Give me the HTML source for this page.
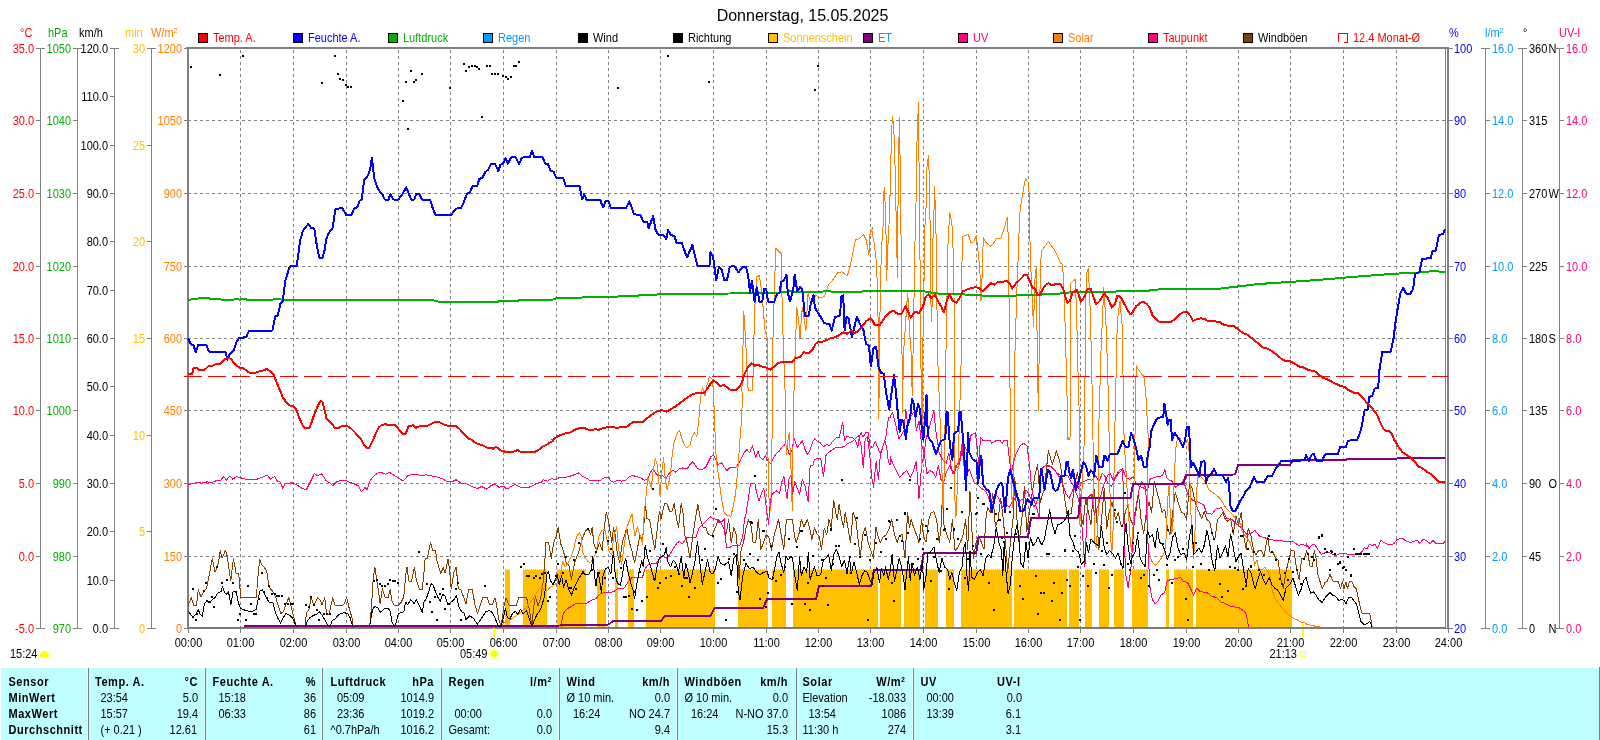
<!DOCTYPE html>
<html lang="de"><head><meta charset="utf-8"><title>Donnerstag, 15.05.2025</title>
<style>html,body{margin:0;padding:0;background:#fff;overflow:hidden}body{width:1600px;height:740px}svg{display:block;will-change:transform;font-family:"Liberation Sans",Arial,sans-serif;font-size:11px}text{white-space:pre}</style></head><body>
<svg width="1600" height="740" viewBox="0 0 1600 740">
<rect x="0" y="0" width="1600" height="740" fill="#ffffff"/>
<g stroke="#808080" stroke-width="1" stroke-dasharray="3 3" shape-rendering="crispEdges">
<line x1="240.5" y1="50" x2="240.5" y2="628"/>
<line x1="293.5" y1="50" x2="293.5" y2="628"/>
<line x1="346.5" y1="50" x2="346.5" y2="628"/>
<line x1="398.5" y1="50" x2="398.5" y2="628"/>
<line x1="450.5" y1="50" x2="450.5" y2="628"/>
<line x1="503.5" y1="50" x2="503.5" y2="628"/>
<line x1="556.5" y1="50" x2="556.5" y2="628"/>
<line x1="608.5" y1="50" x2="608.5" y2="628"/>
<line x1="660.5" y1="50" x2="660.5" y2="628"/>
<line x1="713.5" y1="50" x2="713.5" y2="628"/>
<line x1="766.5" y1="50" x2="766.5" y2="628"/>
<line x1="818.5" y1="50" x2="818.5" y2="628"/>
<line x1="870.5" y1="50" x2="870.5" y2="628"/>
<line x1="923.5" y1="50" x2="923.5" y2="628"/>
<line x1="976.5" y1="50" x2="976.5" y2="628"/>
<line x1="1028.5" y1="50" x2="1028.5" y2="628"/>
<line x1="1080.5" y1="50" x2="1080.5" y2="628"/>
<line x1="1133.5" y1="50" x2="1133.5" y2="628"/>
<line x1="1186.5" y1="50" x2="1186.5" y2="628"/>
<line x1="1238.5" y1="50" x2="1238.5" y2="628"/>
<line x1="1290.5" y1="50" x2="1290.5" y2="628"/>
<line x1="1343.5" y1="50" x2="1343.5" y2="628"/>
<line x1="1396.5" y1="50" x2="1396.5" y2="628"/>
<line x1="188" y1="120.5" x2="1445" y2="120.5"/>
<line x1="188" y1="193.5" x2="1445" y2="193.5"/>
<line x1="188" y1="266.5" x2="1445" y2="266.5"/>
<line x1="188" y1="338.5" x2="1445" y2="338.5"/>
<line x1="188" y1="410.5" x2="1445" y2="410.5"/>
<line x1="188" y1="483.5" x2="1445" y2="483.5"/>
<line x1="188" y1="556.5" x2="1445" y2="556.5"/>
</g>
<g fill="#ffc000" shape-rendering="crispEdges">
<rect x="505.0" y="570" width="4.5" height="58"/>
<rect x="523.2" y="570" width="23.5" height="58"/>
<rect x="557.0" y="570" width="28.8" height="58"/>
<rect x="597.0" y="570" width="9.2" height="58"/>
<rect x="615.0" y="570" width="3.0" height="58"/>
<rect x="628.2" y="570" width="5.5" height="58"/>
<rect x="646.2" y="570" width="68.8" height="58"/>
<rect x="738.2" y="570" width="29.8" height="58"/>
<rect x="772.0" y="570" width="13.8" height="58"/>
<rect x="793.0" y="570" width="84.5" height="58"/>
<rect x="879.5" y="570" width="21.1" height="58"/>
<rect x="904.2" y="570" width="15.7" height="58"/>
<rect x="924.8" y="570" width="13.0" height="58"/>
<rect x="946.0" y="570" width="7.7" height="58"/>
<rect x="961.1" y="570" width="50.4" height="58"/>
<rect x="1014.2" y="570" width="52.8" height="58"/>
<rect x="1069.2" y="570" width="10.2" height="58"/>
<rect x="1084.9" y="570" width="7.4" height="58"/>
<rect x="1098.6" y="570" width="10.2" height="58"/>
<rect x="1114.3" y="570" width="9.9" height="58"/>
<rect x="1132.2" y="570" width="15.9" height="58"/>
<rect x="1166.0" y="570" width="2.8" height="58"/>
<rect x="1174.3" y="570" width="18.7" height="58"/>
<rect x="1195.5" y="570" width="96.2" height="58"/>
</g>
<g stroke="#ffc000" stroke-width="1" stroke-dasharray="1 1" shape-rendering="crispEdges">
<line x1="505" y1="569.5" x2="510" y2="569.5"/>
<line x1="523" y1="569.5" x2="547" y2="569.5"/>
<line x1="557" y1="569.5" x2="586" y2="569.5"/>
<line x1="597" y1="569.5" x2="606" y2="569.5"/>
<line x1="615" y1="569.5" x2="618" y2="569.5"/>
<line x1="628" y1="569.5" x2="634" y2="569.5"/>
<line x1="646" y1="569.5" x2="715" y2="569.5"/>
<line x1="738" y1="569.5" x2="768" y2="569.5"/>
<line x1="772" y1="569.5" x2="786" y2="569.5"/>
<line x1="793" y1="569.5" x2="878" y2="569.5"/>
<line x1="880" y1="569.5" x2="901" y2="569.5"/>
<line x1="904" y1="569.5" x2="920" y2="569.5"/>
<line x1="925" y1="569.5" x2="938" y2="569.5"/>
<line x1="946" y1="569.5" x2="954" y2="569.5"/>
<line x1="961" y1="569.5" x2="1012" y2="569.5"/>
<line x1="1014" y1="569.5" x2="1067" y2="569.5"/>
<line x1="1069" y1="569.5" x2="1079" y2="569.5"/>
<line x1="1085" y1="569.5" x2="1092" y2="569.5"/>
<line x1="1099" y1="569.5" x2="1109" y2="569.5"/>
<line x1="1114" y1="569.5" x2="1124" y2="569.5"/>
<line x1="1132" y1="569.5" x2="1148" y2="569.5"/>
<line x1="1166" y1="569.5" x2="1169" y2="569.5"/>
<line x1="1174" y1="569.5" x2="1193" y2="569.5"/>
<line x1="1196" y1="569.5" x2="1292" y2="569.5"/>
</g>
<g shape-rendering="crispEdges">
<rect x="186" y="47" width="1262" height="2" fill="#808080"/>
<rect x="187" y="47" width="2" height="582" fill="#808080"/>
<rect x="1445" y="47" width="1" height="582" fill="#808080"/>
<rect x="1447" y="47" width="2" height="582" fill="#808080"/>
<rect x="184" y="628" width="1269" height="1" fill="#808080"/>
</g>
<g shape-rendering="crispEdges">
<polyline points="188.1,605.6 191.3,597.7 193.9,605.6 196.5,605.6 198.3,589.8 200.9,596.9 203.6,591.6 206.7,588.1 209.7,572.3 212.3,558.2 215.0,572.3 216.7,567.9 218.5,562.6 220.3,550.3 222.0,558.2 225.5,550.3 227.3,556.5 229.0,568.7 230.8,581.0 233.4,558.2 236.1,573.1 238.7,573.1 240.8,597.7 256.3,597.7 258.0,575.8 259.8,559.1 261.5,564.4 264.2,567.0 266.8,571.4 268.6,584.6 270.3,588.9 272.9,591.6 275.6,596.9 278.2,605.6 280.9,613.5 283.5,611.8 286.1,603.9 288.8,597.7 291.4,607.4 294.0,617.9 296.3,627.1 305.1,627.1 306.3,613.5 309.0,609.1 311.1,597.7 313.9,605.6 317.7,597.7 320.4,600.4 322.1,604.8 324.8,597.7 326.5,613.5 329.2,614.4 330.9,605.6 332.7,597.7 335.3,605.6 342.3,605.6 344.1,603.9 346.7,597.7 349.4,609.1 352.0,617.9 352.9,627.1 369.6,627.1 371.3,609.1 373.1,580.2 374.8,567.0 376.6,579.3 378.3,589.8 380.1,603.9 382.4,588.9 385.4,597.7 388.0,597.7 390.1,589.5 391.9,600.4 394.2,605.6 398.5,605.6 401.2,602.1 403.8,596.9 405.6,575.8 407.0,567.0 408.7,581.0 411.7,581.0 414.4,567.0 416.5,581.0 419.6,589.5 422.3,589.5 424.0,572.3 425.2,558.2 427.5,558.2 430.5,542.4 432.8,550.3 435.4,550.3 437.2,561.7 440.7,573.1 443.3,567.9 445.1,573.1 448.1,559.1 449.8,572.3 451.2,588.9 453.9,572.3 456.2,567.0 458.3,588.9 460.9,589.5 463.5,596.9 466.0,603.9 468.6,589.8 472.1,588.9 474.8,603.9 477.4,613.5 480.1,605.6 482.7,597.7 487.1,597.7 489.7,604.8 492.3,604.8 495.0,597.7 496.7,605.6 498.5,617.9 501.1,627.1 503.8,607.4 506.0,597.7 509.0,605.3 516.1,605.3 518.7,597.7 526.6,597.7 529.2,609.1 531.9,625.8 533.6,607.4 535.4,596.9 538.0,605.6 540.7,597.7 543.3,581.0 545.0,558.2 545.9,542.4 548.6,542.4 551.2,558.2 553.8,542.4 556.5,535.4 558.2,527.5 560.9,544.2 563.5,551.2 566.1,562.6 568.8,565.2 571.4,579.3 574.9,561.7 578.4,552.9 581.9,539.8 585.4,531.0 588.1,528.3 590.7,534.5 592.1,527.5 594.2,545.9 596.9,550.3 599.5,542.4 602.1,550.3 604.4,526.6 606.2,512.5 608.3,519.6 610.0,531.0 611.8,542.4 613.5,527.5 615.3,535.4 617.1,552.1 619.7,562.6 622.3,542.4 625.0,534.5 626.7,527.5 629.4,542.4 632.0,551.2 634.6,562.6 637.3,549.4 639.9,535.4 642.5,539.8 644.3,519.6 645.5,504.6 646.9,518.7 649.6,519.6 652.2,535.4 654.8,549.4 656.6,534.5 658.3,519.6 659.6,511.7 661.0,518.7 662.7,511.7 664.5,503.8 667.1,503.8 669.8,511.7 672.4,510.8 674.2,503.8 676.8,519.6 678.5,527.5 681.2,503.8 682.9,511.7 684.7,535.4 687.3,543.3 690.0,558.2 692.6,537.1 695.2,519.6 697.9,504.6 700.5,519.6 703.1,527.5 705.8,527.5 708.4,534.5 711.9,535.4 715.4,527.5 718.1,519.6 720.7,522.2 723.3,527.5 726.0,534.5 728.6,519.6 731.2,542.4 733.9,527.5 736.5,535.4 739.1,579.3 740.9,551.2 743.5,542.4 746.0,528.3 748.6,519.6 751.3,526.6 753.0,542.4 755.7,542.4 758.3,519.6 760.9,549.4 763.6,542.4 766.2,534.5 768.8,537.1 771.5,550.3 774.1,535.4 776.7,526.6 778.5,519.6 781.1,534.5 783.8,549.4 786.4,519.6 792.5,519.6 794.3,534.5 796.1,542.4 798.7,535.4 801.3,519.6 804.0,526.6 807.5,519.6 809.6,528.3 811.9,539.8 814.5,527.5 817.1,534.5 818.9,535.4 821.5,549.4 824.2,528.3 826.8,534.5 828.9,519.6 831.2,527.5 833.8,500.2 835.6,511.7 837.3,519.6 839.1,504.6 841.7,519.6 843.5,527.5 845.2,512.5 847.9,527.5 850.5,542.4 853.1,512.5 855.8,519.6 858.4,542.4 860.2,556.5 862.8,534.5 865.4,527.5 868.1,542.4 870.7,550.3 873.3,558.2 876.0,527.5 877.7,535.4 880.4,542.4 883.0,537.1 886.5,534.5 889.2,528.3 891.8,519.6 894.4,534.5 897.1,542.4 899.7,535.4 902.3,534.5 905.0,558.2 907.6,512.5 909.4,527.5 911.1,519.6 913.7,527.5 916.4,534.5 919.0,542.4 921.7,519.6 923.4,535.4 926.0,542.4 928.7,519.6 931.3,512.5 934.0,511.7 936.6,519.6 939.2,542.4 941.0,527.5 942.4,496.7 944.1,526.6 947.1,535.4 949.8,542.4 952.4,519.6 955.0,550.3 957.7,547.7 960.3,542.4 962.9,535.4 965.6,519.6 967.7,549.4 970.0,491.5 971.7,526.6 973.5,558.2 976.1,542.4 978.7,535.4 981.4,542.4 984.0,549.4 985.8,519.6 987.5,507.3 990.2,512.5 992.8,493.2 995.4,526.6 998.1,519.6 1000.7,498.5 1003.3,519.6 1006.0,549.4 1007.7,572.3 1010.4,542.4 1013.0,519.6 1014.8,477.4 1017.4,527.5 1019.1,542.4 1021.8,519.6 1024.4,486.2 1026.8,531.9 1030.8,502.2 1034.9,475.1 1037.6,464.3 1040.3,502.2 1044.3,488.6 1048.4,450.8 1052.4,464.3 1056.5,450.8 1060.5,464.3 1063.2,488.6 1067.3,515.7 1071.4,513.0 1074.1,488.6 1077.3,472.4 1078.7,479.0 1080.5,512.5 1083.1,524.8 1085.7,497.8 1088.4,512.5 1091.0,524.8 1093.6,485.1 1096.3,512.5 1098.9,549.4 1101.5,519.6 1104.2,488.6 1106.8,528.3 1109.4,510.8 1112.1,502.0 1115.6,519.6 1118.2,512.5 1120.9,524.8 1122.6,526.6 1125.2,512.5 1127.9,505.5 1130.5,519.6 1133.1,524.8 1135.8,512.5 1138.4,492.8 1141.1,519.6 1143.7,533.6 1146.3,512.5 1149.0,502.5 1151.6,512.5 1154.2,481.6 1159.5,501.2 1162.1,512.5 1164.8,509.0 1167.4,528.3 1170.0,534.5 1172.7,512.5 1175.3,492.3 1178.8,504.6 1181.5,512.5 1184.1,513.4 1186.7,519.6 1189.4,483.4 1192.0,487.7 1195.5,503.8 1198.1,509.9 1201.7,518.7 1204.3,511.7 1206.9,519.6 1209.6,521.3 1212.2,534.5 1214.8,539.8 1217.5,519.6 1220.1,516.9 1222.7,512.5 1225.4,519.6 1228.0,521.3 1230.6,518.7 1233.3,534.5 1235.9,516.1 1238.5,524.8 1241.2,512.5 1243.8,537.1 1246.4,549.4 1248.2,528.3 1250.8,534.5 1253.5,550.3 1256.1,554.7 1258.7,550.3 1261.4,550.3 1264.0,556.5 1267.5,537.1 1270.2,552.9 1272.8,551.2 1275.4,558.2 1278.1,560.0 1280.7,579.3 1283.3,588.1 1286.0,572.3 1288.6,560.0 1291.2,550.3 1293.9,550.3 1296.5,568.7 1299.1,579.3 1301.8,558.2 1304.4,558.2 1306.0,552.9 1306.3,550.3 1308.1,554.7 1309.9,566.1 1312.5,566.1 1314.3,550.3 1316.0,558.2 1317.8,574.0 1320.4,582.8 1322.2,588.9 1324.8,582.8 1327.4,581.0 1330.1,574.0 1332.7,581.0 1338.0,581.0 1340.6,588.9 1342.4,581.9 1344.1,588.9 1345.9,581.9 1347.6,588.9 1349.4,581.9 1352.0,581.9 1353.8,586.3 1356.4,588.9 1358.2,597.7 1359.9,605.6 1361.7,613.0 1369.6,613.0 1371.3,621.4 1372.2,627.1" fill="none" stroke="#804000" stroke-width="1" stroke-linejoin="round" />
<polyline points="188.1,484.6 192.2,483.8 197.6,482.4 201.6,483.2 207.0,481.9 212.4,482.4 216.5,480.5 220.5,480.5 223.8,476.5 226.5,480.0 230.0,475.7 232.7,479.2 236.8,476.5 240.8,477.8 247.6,479.7 257.0,479.2 262.4,477.3 267.0,475.1 270.5,479.2 274.6,476.5 277.8,481.9 280.0,481.9 282.7,488.1 285.4,483.2 288.1,483.8 292.2,482.4 296.2,484.6 301.6,488.1 306.2,490.0 309.7,483.2 314.3,473.8 317.8,475.7 321.9,473.8 325.9,480.5 330.0,483.2 332.7,485.9 336.8,481.9 340.8,480.0 344.9,480.0 348.9,481.9 353.0,483.2 358.4,485.9 361.6,491.9 365.1,487.3 367.0,490.0 370.5,480.0 374.6,475.1 380.0,471.9 385.4,474.3 389.5,472.4 393.5,475.1 397.6,477.3 403.0,481.1 408.4,475.1 417.8,474.6 421.9,475.9 425.9,474.6 430.0,475.7 435.4,476.5 442.2,478.6 447.6,481.9 451.6,481.9 456.2,479.7 461.1,483.2 466.5,483.8 471.9,486.5 477.3,488.6 481.4,486.5 486.8,489.2 490.8,485.9 494.9,483.8 498.9,487.3 503.0,485.9 507.0,489.2 511.1,486.5 515.1,484.6 520.5,487.3 528.6,487.3 532.7,485.9 536.8,483.2 540.8,482.7 543.5,479.7 547.6,481.1 551.6,478.4 555.7,480.0 559.7,477.3 563.8,477.8 569.2,476.5 574.6,474.6 578.6,473.0 582.7,476.5 586.8,478.4 590.8,481.1 594.9,480.0 598.9,481.1 604.3,477.8 609.7,477.3 610.0,480.2 613.5,482.5 617.0,480.2 621.4,481.1 625.8,480.2 629.3,476.7 632.8,475.4 636.3,476.7 640.7,477.6 644.3,480.2 647.8,479.0 650.4,472.3 653.0,468.8 655.7,473.2 658.3,475.8 662.7,475.8 666.2,478.4 669.7,472.3 673.2,470.5 675.9,472.3 679.4,468.8 682.9,467.9 687.3,468.8 689.9,464.4 692.6,461.7 695.2,465.3 697.8,468.8 702.2,469.7 705.7,467.0 708.4,461.7 711.0,456.5 713.6,454.7 716.3,460.9 718.0,464.4 721.5,462.6 724.2,467.0 726.8,470.5 730.3,467.4 736.5,467.0 739.1,462.6 741.7,457.4 744.4,452.1 747.0,449.5 749.6,453.0 752.3,445.9 754.0,451.2 755.8,457.4 757.9,451.2 760.2,457.4 762.8,460.0 765.5,455.6 767.2,460.0 770.7,463.5 774.2,456.5 776.9,453.0 779.5,451.2 782.1,446.8 785.7,444.2 787.4,447.7 789.2,454.7 791.8,451.2 794.1,438.0 797.1,447.7 799.7,444.2 802.3,440.7 805.0,449.5 807.6,454.7 810.2,449.5 812.9,441.5 814.6,438.9 817.3,441.5 819.9,442.4 823.4,446.8 826.9,444.2 829.6,445.9 833.1,440.7 835.7,438.0 839.2,437.2 841.0,430.1 842.7,422.2 844.5,440.7 847.1,436.3 849.8,437.2 853.3,438.0 855.9,441.5 857.7,447.7 859.4,436.3 861.2,432.8 862.9,437.2 865.6,432.8 868.2,432.8 870.0,445.9 872.6,447.7 875.2,441.5 877.9,447.7 880.5,454.7 883.1,445.9 884.9,440.7 886.7,447.7 888.4,461.7 890.0,465.3 890.0,456.5 893.5,465.3 897.0,472.3 899.7,477.6 903.2,473.2 906.7,470.5 910.2,477.6 912.8,472.3 916.3,461.7 919.0,498.6 921.6,465.3 924.3,453.0 926.9,474.0 929.5,470.5 933.0,472.3 935.7,477.6 938.3,465.3 940.9,479.3 943.6,482.8 946.2,472.3 949.7,465.3 953.2,474.0 955.9,465.3 958.5,468.8 960.3,456.5 962.0,444.2 963.8,465.3 966.4,477.6 969.0,468.8 971.7,475.8 974.3,482.8 977.8,484.6 981.3,488.1 985.7,491.6 988.4,496.9 991.0,503.9 993.6,500.4 995.4,493.4 998.9,498.6 1002.4,507.4 1005.9,503.9 1009.4,507.4 1013.0,500.4 1016.5,496.9 1020.0,500.4 1023.5,498.6 1026.1,489.9 1028.8,493.4 1031.4,500.4 1034.0,507.4 1036.7,502.1 1039.3,491.6 1041.1,468.8 1044.6,466.1 1048.1,465.3 1051.6,467.0 1055.1,470.5 1058.6,475.8 1062.1,482.8 1065.7,493.4 1069.2,498.6 1072.7,489.9 1076.2,482.8 1078.8,488.1 1081.5,482.8 1085.0,481.1 1088.5,479.3 1092.0,480.2 1095.5,475.8 1099.0,481.1 1102.5,473.2 1105.2,476.7 1107.8,482.8 1111.3,486.3 1114.8,479.3 1118.4,473.2 1122.7,469.7 1126.3,477.6 1129.8,479.3 1133.3,476.7 1135.9,482.8 1139.4,486.3 1143.8,488.1 1147.3,490.7 1150.0,479.3 1153.5,477.6 1157.9,476.7 1162.3,475.8 1164.9,469.7 1166.7,477.6 1170.0,481.1 1171.4,480.5 1175.4,487.3 1179.5,484.6 1183.5,480.5 1187.6,494.1 1193.0,500.8 1198.4,502.2 1203.8,504.9 1206.5,513.0 1211.9,514.3 1215.9,508.9 1221.4,507.6 1226.8,518.4 1232.2,519.7 1236.2,523.8 1241.6,527.8 1247.0,534.6 1251.1,533.2 1255.1,530.5 1259.2,535.9 1263.2,537.3 1267.3,538.6 1272.7,540.0 1279.5,540.5 1286.2,541.4 1293.0,541.4 1298.4,545.4 1302.4,544.1 1306.5,546.2 1306.3,543.3 1309.0,548.5 1312.5,544.2 1315.1,545.0 1317.8,549.4 1321.3,554.3 1324.8,552.9 1328.3,552.1 1331.8,553.8 1335.3,555.6 1339.7,553.8 1344.1,552.9 1347.6,554.3 1352.0,554.7 1357.3,554.3 1361.7,552.1 1364.3,547.7 1366.9,549.1 1369.6,544.2 1372.2,545.9 1374.9,544.2 1377.5,548.5 1381.0,539.8 1383.6,542.4 1387.1,544.2 1390.7,545.0 1394.2,543.3 1396.8,539.8 1402.1,538.0 1406.5,541.5 1410.9,542.4 1414.4,541.5 1417.0,539.8 1419.6,543.3 1423.2,539.2 1426.7,540.6 1430.2,543.8 1432.8,540.3 1436.3,543.8 1439.8,543.3 1443.4,543.3 1445.1,541.5" fill="none" stroke="#ff0080" stroke-width="1" stroke-linejoin="round" />
<polyline points="501.1,627.1 503.8,623.2 508.2,621.4 511.7,618.8 516.9,615.3 522.2,610.9 526.6,607.4 531.9,600.4 536.3,593.3 539.8,588.1 542.4,586.3 545.0,593.3 549.4,588.1 553.8,585.4 557.3,582.8 560.9,572.3 562.6,561.7 565.2,567.0 567.9,563.5 571.4,556.5 574.0,547.7 576.7,536.3 579.3,532.7 581.1,536.3 582.8,552.9 585.4,558.2 588.1,561.7 590.7,562.6 593.3,558.2 596.0,552.9 598.6,537.1 601.3,531.0 604.8,529.2 607.4,542.4 609.2,552.1 611.8,554.7 613.5,538.9 615.3,531.0 616.7,526.6 617.9,542.4 619.7,556.5 621.5,564.4 624.1,545.9 626.7,528.3 629.4,520.4 632.0,514.3 633.7,528.3 635.0,536.3 637.3,526.6 639.9,534.5 642.5,544.2 644.3,512.5 645.5,502.0 647.8,477.6 649.5,482.8 651.3,488.1 653.0,472.3 655.3,458.2 657.4,465.3 660.1,496.0 661.8,472.3 663.6,457.4 665.3,479.3 667.1,489.9 668.8,482.8 670.6,472.3 672.4,453.0 674.1,442.4 676.7,434.5 679.4,430.1 682.0,438.9 684.7,445.9 687.3,447.7 689.9,445.1 691.7,438.0 694.3,432.8 696.9,436.3 698.7,421.3 699.9,405.5 701.0,395.0 702.7,387.3 704.9,396.2 706.8,385.9 709.5,376.5 712.2,379.2 713.5,391.4 713.6,395.0 714.9,430.1 716.3,460.0 718.9,477.6 721.5,498.6 724.2,512.7 726.8,515.3 730.9,516.2 733.0,507.4 735.6,493.4 738.2,465.3 740.0,438.9 741.4,421.3 742.6,395.0 741.9,391.4 743.8,311.6 745.9,345.4 748.1,390.0 752.7,390.0 754.6,310.3 756.8,276.5 759.5,275.7 762.2,296.8 764.9,329.2 767.0,337.3 767.0,395.0 768.6,495.1 770.9,510.9 772.7,395.0 773.0,337.3 775.7,248.1 778.4,250.8 781.1,253.5 782.4,315.7 783.8,358.9 785.1,391.4 785.1,395.0 786.2,454.7 787.4,444.2 789.2,432.8 790.9,465.3 792.3,510.9 793.0,447.7 793.9,395.0 795.1,353.5 796.8,307.6 798.6,319.7 800.0,338.6 802.2,307.6 804.1,318.4 805.9,330.5 808.1,292.7 810.8,304.9 813.5,298.1 816.2,295.4 820.3,297.6 824.3,296.8 828.4,284.6 832.4,280.5 837.8,272.4 841.9,271.9 847.3,275.9 850.0,267.0 852.7,253.5 855.4,240.0 859.5,238.6 863.5,234.6 866.2,240.0 868.9,254.9 870.3,229.2 873.0,227.8 871.8,230.3 874.4,244.3 876.1,260.1 877.0,277.7 877.9,305.8 878.4,355.0 878.4,390.1 878.8,419.1 879.1,390.1 879.7,333.9 880.5,277.7 882.3,233.8 883.2,225.0 883.2,198.6 884.4,187.2 885.5,210.9 885.8,225.0 886.2,242.6 886.7,280.3 887.6,251.3 889.0,225.0 889.7,207.4 890.7,170.5 891.4,135.4 892.5,116.1 893.4,124.0 894.2,138.0 895.1,167.9 896.0,210.9 896.7,225.0 897.2,277.7 897.8,225.0 898.5,158.2 899.5,117.8 900.2,167.9 900.9,225.0 901.3,260.1 901.6,312.8 902.0,355.0 902.5,413.0 903.4,355.0 905.1,330.4 907.2,298.8 907.8,293.5 909.5,330.4 911.3,355.0 912.2,395.4 913.0,355.0 915.3,225.0 916.0,203.9 916.5,163.5 917.4,124.0 918.7,102.9 919.2,196.9 919.7,225.0 920.9,355.0 921.8,467.4 922.7,355.0 925.0,225.0 925.9,215.3 926.6,171.4 927.6,160.9 928.7,155.1 929.4,188.1 930.1,225.0 931.1,312.8 931.8,321.6 933.2,225.0 933.9,214.4 934.6,186.0 935.3,210.1 935.9,225.0 937.6,355.0 941.8,465.3 943.0,509.2 944.5,465.3 945.9,355.0 948.2,233.8 949.0,225.0 949.6,212.3 950.4,215.3 951.3,220.6 951.7,225.0 952.6,228.5 954.0,295.3 954.3,355.0 954.1,482.8 955.9,518.0 957.6,482.8 961.3,355.0 962.2,236.4 968.4,234.7 971.0,242.6 973.6,241.7 976.3,235.5 977.1,242.6 978.0,251.3 979.8,268.9 981.0,300.5 982.4,268.9 983.3,237.3 985.9,242.6 990.3,246.1 993.0,244.3 996.5,238.2 1000.9,238.2 1003.5,230.3 1005.3,225.0 1006.1,220.6 1007.5,217.1 1007.9,225.0 1008.8,277.7 1009.6,355.0 1011.2,482.8 1012.4,507.4 1013.8,482.8 1014.9,355.0 1016.7,295.3 1018.4,251.3 1019.3,225.0 1020.2,209.2 1021.9,198.6 1024.2,184.6 1025.5,178.4 1027.2,181.1 1028.6,182.8 1029.3,198.6 1029.5,225.0 1030.8,267.0 1033.5,326.5 1034.9,280.5 1036.2,267.0 1037.6,375.1 1038.4,410.3 1040.3,267.0 1041.6,250.8 1048.4,241.4 1055.1,250.8 1060.5,263.0 1062.7,264.3 1064.6,307.6 1066.5,375.1 1068.1,440.0 1067.4,437.2 1070.0,440.0 1070.8,283.2 1075.4,279.2 1076.8,321.1 1078.1,375.1 1080.0,440.0 1079.7,525.0 1081.5,500.4 1084.3,440.0 1086.2,275.1 1088.1,268.4 1089.7,294.1 1091.6,361.6 1093.0,440.0 1094.5,542.4 1096.3,547.7 1098.0,519.6 1098.4,440.0 1101.1,348.1 1103.8,287.3 1105.9,321.1 1107.8,375.1 1109.2,440.0 1110.7,537.1 1111.7,554.7 1112.9,537.1 1114.6,440.0 1117.3,321.1 1120.0,300.8 1122.2,326.5 1124.1,440.0 1130.0,537.1 1131.4,551.2 1132.8,537.1 1134.9,440.0 1136.2,365.7 1140.3,372.4 1143.8,376.5 1145.7,391.4 1147.0,415.7 1148.4,440.0 1147.2,502.0 1148.1,547.7 1149.8,556.5 1152.5,562.6 1155.1,565.2 1157.7,563.5 1161.3,558.2 1164.8,551.2 1166.5,533.6 1167.4,502.0 1169.2,484.4 1170.4,519.6 1171.8,533.6 1173.2,519.6 1172.8,525.0 1173.7,493.4 1174.9,465.3 1176.3,442.4 1179.0,437.2 1181.6,440.7 1184.3,443.3 1186.0,441.5 1187.8,439.8 1189.0,451.2 1190.0,482.8 1191.3,525.0 1193.7,558.2 1195.3,525.0 1196.5,493.4 1197.8,477.6 1200.9,476.7 1206.2,482.8 1208.8,489.9 1214.1,493.4 1220.3,498.6 1225.5,507.4 1230.8,512.7 1236.1,518.8 1241.3,525.0 1242.1,531.9 1246.4,537.1 1250.0,542.4 1253.5,554.7 1254.4,565.2 1257.0,560.0 1258.7,568.7 1262.3,569.6 1264.9,567.0 1268.4,572.3 1271.0,584.6 1273.7,595.1 1276.3,600.4 1278.9,603.9 1282.5,608.3 1286.0,612.7 1289.5,615.3 1293.0,617.9 1297.4,620.0 1301.8,622.3 1306.0,623.2 1306.3,624.1 1313.4,625.8 1320.4,627.1" fill="none" stroke="#ff8000" stroke-width="1" stroke-linejoin="round" />
<polyline points="561.4,627.1 562.3,616.2 564.4,611.8 567.9,608.3 571.4,606.5 575.8,603.5 587.2,603.0 590.7,600.4 596.0,598.6 600.4,593.3 606.5,592.5 613.5,591.9 617.1,588.9 624.1,588.1 627.6,582.8 632.0,577.5 642.5,577.2 645.2,568.7 647.8,565.2 652.2,563.5 656.6,563.1 659.2,560.0 662.7,556.5 666.2,558.2 669.8,554.7 673.3,548.5 676.8,543.3 679.4,541.5 682.1,544.2 687.3,537.1 696.1,537.1 698.7,528.3 702.3,524.8 705.8,521.3 710.2,516.9 713.7,518.7 717.2,519.6 718.9,523.1 722.5,521.3 724.2,518.7 725.1,537.1 726.8,547.7 729.5,548.0 733.0,545.0 740.0,545.0 742.7,537.1 744.4,519.6 746.0,514.3 750.5,483.7 754.9,483.4 756.7,493.4 759.0,501.3 761.4,493.4 763.7,488.1 765.5,500.4 767.2,514.4 768.6,524.1 769.5,510.9 771.3,495.1 774.2,492.5 776.9,490.7 779.5,493.4 782.1,481.1 783.9,476.7 785.7,489.9 787.1,498.6 789.2,477.6 790.9,475.8 792.7,493.4 794.8,481.1 797.1,488.1 799.7,494.2 802.3,479.3 805.0,486.3 808.1,501.3 810.2,465.3 812.9,465.3 814.6,459.1 820.8,458.6 823.4,476.7 826.1,454.7 831.3,450.3 835.7,447.7 844.5,446.8 848.0,443.3 852.4,441.5 855.9,438.0 858.6,435.4 861.2,445.9 863.3,467.9 865.1,439.8 867.3,436.3 869.6,453.0 871.7,476.7 873.5,487.2 876.1,461.7 878.4,479.3 880.5,453.0 883.1,445.9 885.8,437.2 888.4,417.8 890.0,417.8 890.0,416.1 892.6,412.6 895.3,423.1 898.8,438.9 901.4,435.4 904.1,430.1 905.8,409.1 907.6,423.1 911.1,416.1 914.6,410.8 916.3,430.1 919.0,421.3 921.6,444.2 924.3,453.0 926.0,438.9 928.6,430.1 933.9,410.8 935.7,430.1 939.2,453.0 942.7,460.0 946.2,463.5 948.8,453.0 951.5,468.8 954.1,474.0 956.7,465.3 960.3,460.0 962.9,444.2 965.5,447.7 968.2,453.0 970.8,435.4 975.2,432.8 976.9,444.2 978.7,465.3 980.5,437.2 983.1,440.7 990.1,440.7 991.9,443.3 995.4,441.0 999.8,440.3 1002.4,443.3 1004.2,440.3 1007.3,440.3 1008.6,453.0 1011.2,474.0 1013.0,465.3 1015.6,454.7 1020.0,445.9 1023.5,443.3 1027.0,445.9 1029.6,465.3 1031.4,486.3 1034.0,500.4 1036.7,507.4 1039.3,518.0 1040.3,469.7 1045.7,465.7 1051.1,467.0 1056.5,472.4 1061.9,476.5 1067.3,475.1 1072.7,484.6 1078.1,498.1 1080.8,510.3 1084.9,567.0 1087.6,498.1 1091.6,494.1 1094.3,514.3 1098.4,504.9 1103.8,484.6 1107.8,475.1 1110.5,473.8 1113.2,480.5 1118.6,471.1 1122.7,468.4 1125.4,572.4 1128.1,587.3 1130.8,569.7 1134.9,513.0 1138.9,490.0 1141.6,481.9 1145.7,487.3 1149.7,585.9 1152.4,599.5 1155.1,603.5 1158.4,600.8 1160.5,595.4 1164.6,592.7 1167.3,580.5 1180.6,577.5 1183.2,581.0 1187.6,582.8 1191.1,589.8 1193.7,595.1 1196.4,588.1 1199.9,591.6 1206.9,592.5 1211.3,596.0 1216.6,597.7 1221.0,602.1 1225.4,603.5 1230.6,606.5 1238.5,607.4 1243.8,610.9 1246.4,614.4 1248.2,625.0 1249.1,627.1" fill="none" stroke="#ff0080" stroke-width="1" stroke-linejoin="round" />
<polyline points="244.0,626.0 540.0,626.0 580.0,625.0 608.8,624.5 612.5,621.2 661.2,621.2 664.4,616.0 710.6,616.0 714.4,608.1 763.1,608.1 766.9,599.4 816.0,599.4 819.0,586.0 871.2,586.0 873.8,569.8 920.6,569.8 923.8,553.1 976.2,553.1 978.8,536.9 1028.0,536.9 1031.0,517.5 1078.2,517.5 1080.4,497.6 1130.5,497.6 1133.0,484.0 1183.0,484.0 1186.0,475.0 1235.0,474.5 1238.0,465.3 1290.0,465.0 1293.0,460.3 1346.0,459.8 1348.0,458.6 1397.0,458.6 1399.0,457.7 1445.0,457.7" fill="none" stroke="#800080" stroke-width="2" stroke-linejoin="round" />
<polyline points="188.1,610.9 193.0,617.4 195.7,614.4 198.3,609.5 200.1,614.4 202.2,616.2 204.4,603.9 207.1,600.4 209.7,603.0 212.3,599.5 215.0,597.7 217.6,593.3 221.1,591.6 222.5,586.3 224.6,592.5 226.4,594.2 228.5,591.6 230.8,604.8 233.1,591.6 236.1,591.6 238.7,603.9 240.8,608.3 245.7,610.6 251.9,611.8 256.3,609.1 258.4,597.7 260.1,590.7 262.4,589.8 265.0,595.1 267.7,600.4 270.3,603.0 272.9,602.1 275.6,613.5 278.2,618.8 280.5,623.2 283.5,617.1 286.1,613.5 289.6,615.3 292.3,617.9 294.9,623.2 296.3,627.1 305.1,627.1 307.2,621.4 309.8,617.9 313.3,615.3 316.9,614.4 319.5,611.8 322.1,615.3 324.8,619.7 327.4,625.0 330.0,626.7 332.1,620.6 335.3,618.8 338.8,614.4 344.1,612.7 347.6,613.5 350.2,617.9 352.9,627.1 369.6,627.1 371.3,616.2 373.1,608.3 374.8,606.5 377.5,607.4 380.6,612.3 383.6,609.1 388.0,608.3 390.1,610.9 391.9,621.4 394.2,626.4 395.9,623.2 398.5,613.5 403.8,611.8 405.6,602.1 407.7,604.8 410.8,599.5 414.4,603.9 416.1,599.5 418.7,603.9 422.3,612.7 424.0,602.1 426.6,597.7 429.3,589.8 431.0,583.7 433.3,585.4 435.4,591.6 438.1,597.7 440.3,601.2 442.5,594.2 445.1,596.0 448.1,604.8 451.2,602.1 453.9,599.5 456.5,596.0 459.1,607.4 461.8,611.8 464.4,613.5 466.0,619.7 469.5,615.8 473.0,617.9 477.4,624.1 481.8,617.9 486.2,611.3 489.7,610.6 492.3,612.7 495.0,617.9 498.5,626.7 501.1,626.4 503.8,616.2 505.5,608.3 507.3,617.9 509.9,618.8 512.5,613.5 515.2,611.3 517.8,614.4 520.5,609.1 523.1,613.5 526.6,610.9 529.2,618.8 531.9,626.7 534.5,619.7 537.1,614.4 539.8,610.9 542.4,603.9 544.2,596.9 545.9,584.6 547.2,572.3 548.6,571.4 550.3,580.2 552.9,584.6 555.6,579.3 557.3,574.9 559.1,584.6 561.7,575.8 563.5,587.2 566.1,580.2 568.8,589.8 571.4,595.1 574.0,588.1 576.7,582.8 579.3,577.5 582.8,572.3 585.4,574.9 589.0,574.0 591.6,568.7 592.8,556.5 594.2,572.3 596.0,586.3 597.7,572.3 599.5,579.3 601.3,592.5 603.0,575.8 605.6,568.7 608.3,567.0 610.9,574.0 613.5,551.2 615.3,575.8 617.4,582.8 620.2,585.4 622.3,575.8 624.1,563.5 625.8,558.2 627.6,570.5 630.2,581.0 632.9,589.8 634.6,598.6 636.4,586.3 639.0,572.3 641.7,560.8 643.4,567.0 645.2,545.0 647.3,556.5 649.6,563.5 652.2,572.3 654.8,581.0 656.6,568.7 659.2,558.2 661.9,556.5 664.5,554.7 666.2,547.7 668.0,561.7 670.6,567.0 673.3,560.0 675.9,563.5 678.5,572.3 681.2,556.5 683.8,577.5 685.9,563.5 688.2,572.3 690.0,582.8 692.6,572.3 695.2,560.0 697.5,541.5 699.6,560.0 702.3,584.6 704.9,572.3 707.5,560.0 710.2,572.3 712.8,574.0 715.4,568.7 718.1,556.5 720.7,563.5 724.2,565.2 728.6,561.7 731.2,575.8 733.9,558.2 736.5,554.7 738.3,591.6 740.0,600.4 742.7,575.8 746.0,563.5 749.5,568.7 753.0,567.0 756.5,572.3 760.1,574.9 763.6,572.3 767.1,571.4 769.2,578.4 772.3,579.3 775.0,567.0 776.7,556.5 779.0,552.1 781.1,563.5 783.8,572.3 786.0,556.5 788.2,560.0 790.8,556.5 792.5,558.2 794.8,575.8 797.3,590.7 799.6,556.5 801.3,575.8 804.0,567.0 806.6,572.3 808.4,552.1 810.1,579.3 812.4,572.3 814.5,567.0 817.1,575.8 820.7,574.9 823.3,560.0 825.9,558.2 828.6,554.7 831.2,570.5 833.8,554.7 836.5,549.4 839.1,556.5 841.7,567.0 844.4,560.0 847.0,572.3 849.6,558.2 851.4,574.0 854.0,561.7 856.7,572.3 859.3,584.6 861.9,575.8 864.6,570.5 867.2,572.3 869.8,579.3 872.1,584.6 874.2,572.3 876.9,567.0 879.5,582.8 881.3,568.7 883.9,575.8 885.6,567.0 888.3,579.3 890.0,572.3 892.1,554.7 894.4,581.9 897.1,568.7 899.2,558.2 901.5,567.0 903.2,575.8 905.0,589.8 906.7,572.3 908.5,556.5 910.2,581.0 912.0,563.5 914.6,575.8 917.3,567.0 919.9,579.3 922.5,561.7 923.8,589.8 926.0,575.8 927.8,552.9 930.4,552.1 934.0,546.8 936.6,561.7 939.2,572.3 941.9,558.2 944.5,567.0 947.7,569.6 949.8,579.3 951.9,572.3 954.2,582.8 956.8,590.7 959.4,572.3 962.1,567.0 963.8,547.7 965.6,542.4 967.0,575.8 968.7,590.7 970.0,551.2 971.7,577.5 974.4,579.3 977.5,572.3 980.5,569.6 983.1,575.8 985.8,558.2 988.4,554.7 991.0,556.5 993.7,545.9 996.3,527.5 998.9,542.4 1001.6,551.2 1002.8,575.8 1004.2,542.4 1006.0,572.3 1008.1,593.3 1010.4,584.6 1012.1,560.0 1014.8,534.5 1017.4,523.1 1019.1,542.4 1020.9,563.5 1023.5,567.0 1026.0,542.4 1028.1,558.2 1030.4,537.1 1033.0,545.9 1035.7,542.4 1037.9,537.1 1041.8,545.0 1044.4,538.9 1047.1,524.8 1049.7,509.9 1052.3,524.8 1055.0,533.6 1057.6,524.8 1060.3,524.0 1063.8,521.3 1066.4,517.8 1068.2,510.8 1069.9,535.4 1072.5,540.6 1075.2,549.4 1078.7,552.1 1081.3,564.4 1084.0,561.7 1086.6,542.4 1088.4,552.9 1091.0,538.9 1093.6,542.4 1096.3,544.2 1098.9,545.9 1101.5,526.6 1104.2,547.7 1106.8,554.7 1109.4,550.3 1112.1,552.9 1115.6,558.2 1118.2,552.9 1120.9,563.5 1123.0,568.7 1124.4,537.1 1126.1,523.1 1127.9,544.2 1130.5,563.5 1132.3,556.5 1134.9,552.9 1137.5,535.4 1140.2,558.2 1142.8,563.5 1145.4,567.0 1147.2,530.1 1149.8,537.1 1152.5,534.5 1155.1,547.7 1157.4,528.3 1159.5,542.4 1162.1,544.2 1164.8,550.3 1167.4,560.0 1170.0,552.9 1172.7,537.1 1175.3,532.7 1177.9,547.7 1180.6,554.7 1184.1,552.9 1186.7,560.0 1189.4,537.1 1192.0,524.8 1193.7,554.7 1196.4,551.2 1199.0,547.7 1201.7,552.9 1204.3,545.9 1206.9,530.1 1209.6,542.4 1212.2,561.7 1214.8,570.5 1217.5,545.9 1220.1,558.2 1222.7,552.9 1225.4,545.9 1228.0,556.5 1230.6,534.5 1233.3,547.7 1235.9,561.7 1238.5,556.5 1241.2,552.9 1243.8,571.4 1246.4,584.6 1248.2,568.7 1250.8,572.3 1253.5,582.8 1255.2,588.9 1257.9,579.3 1260.5,571.4 1263.1,579.3 1265.8,584.6 1269.3,577.5 1271.9,584.6 1274.6,588.1 1277.2,589.8 1279.8,593.3 1283.3,600.4 1286.0,588.1 1289.5,584.6 1293.0,578.4 1295.6,586.3 1298.3,595.1 1300.9,589.8 1303.5,581.0 1306.0,577.5 1306.3,577.5 1308.1,585.4 1310.7,593.3 1313.4,591.6 1316.0,595.1 1318.6,599.5 1322.2,602.5 1325.7,596.9 1330.1,592.5 1332.7,595.1 1335.3,596.0 1338.8,600.4 1341.5,599.5 1344.1,600.4 1345.9,603.9 1348.5,597.7 1351.1,596.9 1353.8,600.4 1356.4,603.9 1358.2,610.9 1360.8,621.4 1364.3,625.0 1367.8,623.2 1369.9,621.4 1372.2,627.1" fill="none" stroke="#000000" stroke-width="1" stroke-linejoin="round" />
<rect x="189" y="627" width="1256" height="1" fill="#0099ff"/>
<polyline points="188.1,300.0 194.9,298.9 201.6,298.1 207.0,297.8 211.1,298.9 220.5,299.5 234.1,299.5 236.8,298.6 239.5,299.7 244.9,298.9 247.6,300.0 271.9,299.7 277.3,298.6 281.4,299.7 431.4,299.7 435.4,301.1 440.8,301.9 497.6,301.9 500.3,300.8 517.8,300.8 520.5,299.5 553.0,299.5 555.7,298.4 578.6,298.4 585.4,296.8 609.7,296.8 627.0,296.2 648.6,294.9 664.9,294.1 729.7,293.5 735.1,292.7 778.4,292.7 789.2,291.4 816.2,292.2 824.3,291.4 856.8,291.9 870.3,290.8 897.3,291.4 924.3,291.4 937.8,293.5 959.5,294.1 978.4,295.4 1005.4,296.2 1017.6,295.4 1029.7,295.4 1047.0,294.1 1060.5,293.5 1074.1,291.9 1128.1,291.4 1147.0,290.8 1165.9,288.6 1187.6,289.5 1220.0,288.6 1257.8,284.1 1290.3,281.9 1317.3,280.0 1357.8,276.5 1393.0,273.8 1420.0,272.4 1433.5,271.1 1444.9,271.9" fill="none" stroke="#00b000" stroke-width="2" stroke-linejoin="round" />
<polyline points="188.1,338.6 190.8,344.1 193.5,345.4 195.7,352.2 198.4,344.9 206.2,344.9 208.9,351.6 225.4,351.6 227.3,359.7 230.0,353.5 233.5,350.8 236.8,341.4 239.5,337.8 246.2,337.3 248.9,331.1 272.4,330.5 275.1,317.0 277.8,315.1 280.5,303.5 282.7,301.6 285.4,280.5 289.5,267.0 291.4,265.7 296.8,265.7 299.5,245.4 300.3,240.0 303.0,230.5 308.4,223.8 311.1,227.8 314.3,228.6 315.9,240.0 317.8,250.8 319.2,257.6 322.7,257.6 325.1,248.1 325.9,240.0 328.6,233.2 332.7,227.8 335.4,208.9 342.2,208.1 346.2,214.9 351.6,214.9 354.3,208.1 357.0,207.6 359.7,200.8 361.6,199.5 364.3,179.2 366.5,177.8 369.2,172.4 370.5,167.0 371.9,158.1 373.2,168.4 374.1,177.8 377.3,187.3 380.5,192.7 382.7,194.6 384.6,199.5 388.6,199.5 390.3,194.1 393.5,199.5 398.4,199.5 402.2,194.6 406.2,187.3 408.4,192.7 411.1,199.5 414.3,199.5 416.5,193.5 419.2,193.5 421.9,199.5 430.0,199.5 432.7,208.1 435.4,214.9 451.1,214.9 455.1,209.5 457.8,208.1 461.1,208.1 463.8,202.2 467.0,193.5 469.7,192.7 472.4,186.5 477.3,185.9 479.2,179.2 482.7,177.3 485.4,171.9 488.1,169.7 490.8,164.3 494.9,163.8 498.4,171.1 500.3,165.1 503.5,163.0 505.7,158.1 507.8,163.8 511.1,157.6 515.1,156.8 519.2,163.8 521.9,157.6 530.0,156.8 531.9,150.8 534.1,156.8 542.2,156.8 545.4,163.8 548.1,164.3 550.8,171.1 553.5,171.6 556.2,177.8 563.2,177.8 565.9,185.9 579.5,185.9 582.2,199.5 584.1,194.1 586.8,200.0 600.3,200.0 603.0,207.6 605.7,200.8 608.4,200.8 610.8,207.6 626.2,207.6 629.2,201.4 631.9,207.6 633.8,214.3 640.5,215.1 643.2,221.6 647.3,222.4 648.6,228.4 653.2,216.2 655.4,229.2 658.1,234.6 663.5,235.1 666.2,239.2 668.1,230.0 670.8,235.1 674.3,235.9 675.7,240.0 676.5,243.2 681.9,243.2 687.0,257.6 692.4,244.9 697.3,265.7 709.5,265.7 710.3,252.2 713.0,256.2 716.2,280.0 718.9,267.0 721.6,269.7 724.3,280.0 727.0,280.0 729.7,267.0 733.0,265.7 735.1,267.0 738.4,272.4 743.2,266.5 745.9,267.0 748.1,275.1 750.0,292.7 751.9,280.5 754.6,301.6 756.8,287.3 759.5,301.6 762.2,301.6 764.3,288.6 766.2,288.6 768.1,301.6 774.3,301.6 777.0,294.1 779.7,292.7 781.1,281.9 783.8,280.5 786.5,274.6 787.8,292.7 790.0,301.6 793.2,290.0 794.6,274.6 797.3,291.4 800.0,287.3 802.2,288.6 804.9,315.7 808.6,315.7 810.8,303.5 813.5,295.4 814.9,307.6 817.6,312.4 821.6,318.4 824.3,323.2 829.7,324.3 831.6,330.5 835.1,317.0 840.0,315.7 841.4,296.2 843.2,295.4 844.6,330.5 846.5,317.0 848.6,318.4 851.9,337.3 856.8,317.0 860.0,323.8 863.5,330.5 866.2,344.1 868.9,345.4 870.8,366.5 873.5,348.1 876.2,346.8 878.4,367.0 881.1,373.0 883.8,373.8 885.9,391.4 889.2,409.7 894.1,375.1 895.9,391.4 897.3,407.6 898.8,421.3 899.7,431.9 901.4,419.6 903.2,421.3 904.9,431.0 905.8,438.9 907.6,424.9 910.2,417.8 912.0,398.5 913.7,403.8 915.5,417.0 918.1,403.8 919.9,409.1 921.6,425.7 923.4,439.8 925.1,418.7 926.5,395.0 927.8,435.4 929.5,438.9 932.2,442.4 936.0,453.8 940.9,441.0 945.3,438.9 946.6,411.7 948.0,413.4 948.8,433.6 950.6,449.5 952.4,460.0 954.1,433.6 955.9,431.9 958.2,431.0 959.4,412.6 960.8,411.7 962.0,426.6 963.8,447.7 965.2,472.3 965.9,489.9 967.3,458.2 968.2,432.8 969.4,453.0 972.6,459.1 974.7,460.9 976.4,460.9 978.2,482.8 979.6,465.3 981.3,455.6 982.2,470.5 983.1,484.6 984.9,487.2 986.6,489.9 989.2,490.7 990.5,502.1 991.9,511.8 994.5,498.6 996.3,490.7 998.9,484.6 1001.0,482.5 1002.4,484.6 1003.8,500.4 1005.1,511.8 1006.3,498.6 1008.0,477.6 1010.3,469.7 1012.1,476.7 1013.8,484.6 1015.6,490.7 1017.3,496.0 1019.1,503.9 1020.3,511.3 1023.5,511.3 1025.3,505.7 1027.4,499.5 1029.6,501.3 1031.4,504.8 1033.2,498.6 1036.7,497.8 1039.3,497.8 1040.2,477.6 1041.4,468.8 1042.8,477.6 1044.6,489.9 1046.3,479.3 1048.1,469.7 1049.8,471.4 1051.6,479.3 1053.4,488.1 1055.1,490.7 1057.7,489.9 1059.5,482.8 1061.3,476.7 1064.8,475.4 1066.5,462.6 1067.8,461.7 1069.2,472.3 1071.3,478.4 1072.7,469.7 1074.4,477.6 1075.8,489.9 1078.0,483.7 1079.7,476.7 1081.5,468.8 1083.2,462.3 1085.0,463.5 1086.7,468.8 1088.5,475.8 1090.6,470.5 1092.9,472.3 1094.1,475.8 1096.4,455.6 1097.6,461.7 1099.0,467.0 1102.5,467.0 1104.3,455.6 1105.7,456.5 1107.5,460.9 1109.6,454.7 1113.1,453.8 1117.5,453.8 1120.1,447.7 1122.7,441.0 1125.4,446.8 1128.5,446.8 1131.0,433.3 1132.8,436.3 1134.5,442.4 1136.8,451.2 1138.6,460.0 1141.2,455.6 1143.8,467.0 1146.5,467.4 1147.9,453.0 1150.0,445.9 1150.9,431.9 1153.5,425.7 1157.0,418.7 1159.7,417.5 1163.2,417.0 1164.4,403.8 1165.8,412.6 1167.6,424.9 1169.3,419.6 1170.7,419.6 1172.0,439.8 1174.6,432.8 1177.2,436.3 1179.9,440.7 1183.0,446.8 1185.1,439.8 1186.9,426.6 1189.0,426.6 1190.0,447.7 1190.8,467.0 1193.0,462.6 1195.3,467.0 1197.4,471.4 1199.2,475.8 1201.3,461.7 1204.5,461.4 1205.9,482.8 1208.0,476.7 1210.6,474.9 1214.1,468.8 1216.7,474.9 1220.3,475.4 1222.9,475.4 1225.9,481.9 1228.2,477.6 1229.4,489.9 1230.4,505.7 1232.6,510.9 1235.2,511.3 1237.8,505.7 1240.5,500.4 1243.1,496.9 1245.7,491.3 1249.2,488.1 1251.9,481.9 1254.0,476.7 1256.3,481.9 1264.2,481.9 1267.7,476.3 1272.1,475.8 1275.6,468.8 1279.1,464.4 1280.9,461.4 1290.5,461.4 1293.2,460.9 1304.6,460.3 1306.0,454.7 1309.0,460.9 1311.6,454.7 1313.7,453.8 1316.5,460.9 1322.1,460.9 1324.8,454.7 1326.5,453.8 1338.0,453.8 1340.1,447.2 1345.9,446.8 1348.1,440.7 1357.3,439.8 1359.9,432.8 1361.7,426.6 1363.4,416.1 1364.6,410.5 1367.8,409.4 1369.2,397.1 1372.2,395.9 1374.6,388.6 1378.1,388.1 1379.5,369.7 1382.2,352.2 1390.8,351.6 1393.5,338.6 1395.7,321.1 1397.8,307.6 1400.5,292.7 1403.2,288.1 1405.9,293.5 1410.5,293.5 1413.2,288.6 1415.1,273.8 1419.5,272.4 1422.2,258.9 1430.8,258.1 1432.2,251.4 1435.7,250.8 1437.6,241.4 1438.9,235.1 1443.0,234.1 1444.9,229.2" fill="none" stroke="#0000ff" stroke-width="2" stroke-linejoin="round" />
<polyline points="188.1,374.3 192.2,373.8 193.5,368.4 196.8,367.8 198.9,370.0 204.3,370.0 208.4,366.2 212.4,365.7 216.5,363.8 220.5,363.8 224.6,358.9 228.6,357.6 231.4,359.5 235.4,364.9 239.5,367.6 242.7,367.8 246.2,370.5 249.7,373.0 255.1,373.0 258.4,371.6 262.4,370.8 267.0,368.9 270.5,371.6 273.8,375.1 275.9,380.5 278.6,387.3 281.4,393.5 282.7,397.3 286.8,403.0 289.5,405.4 293.5,405.9 296.2,409.7 298.9,417.0 302.2,424.6 304.9,428.4 309.2,428.4 311.1,423.8 313.8,415.7 316.5,408.9 319.2,403.0 321.1,400.8 322.7,402.2 324.6,410.3 326.5,418.4 330.0,421.6 332.7,425.1 335.4,428.4 338.9,428.4 341.6,425.9 346.2,425.7 350.3,427.8 355.7,433.2 359.7,438.1 361.6,440.0 363.8,444.9 366.5,447.6 369.2,447.6 372.4,441.4 373.2,440.0 375.9,433.2 378.6,427.8 381.4,425.1 385.4,424.3 389.5,425.1 394.9,425.1 397.6,427.8 400.3,431.4 403.0,433.8 405.7,433.8 408.4,426.5 411.1,425.7 413.0,425.1 415.7,427.8 419.2,426.5 423.2,425.9 427.3,425.9 431.4,423.8 434.6,422.2 439.5,422.2 443.5,424.3 447.6,425.7 455.7,425.7 459.7,429.2 463.8,433.8 467.8,438.1 471.9,440.0 475.9,443.2 482.7,445.4 488.1,448.1 493.5,448.6 496.2,446.8 500.3,450.3 507.0,452.2 513.8,451.6 517.8,450.0 521.1,452.2 534.1,452.2 538.1,450.3 542.2,446.8 547.6,444.1 553.0,440.8 552.4,440.0 558.4,435.9 563.8,433.8 570.5,432.4 575.9,429.2 581.4,427.8 585.4,428.4 590.3,430.5 594.9,429.2 598.9,429.7 603.8,427.8 609.7,427.0 612.2,426.5 616.2,427.8 621.6,427.3 627.0,426.5 632.4,422.4 637.8,421.6 643.2,421.6 648.6,417.0 654.1,413.0 658.1,410.8 662.2,410.3 666.2,411.6 670.3,409.7 675.7,406.2 681.1,402.2 686.5,398.1 691.9,394.6 695.9,393.2 704.1,393.0 706.8,389.5 710.8,383.2 713.5,380.5 717.6,383.2 720.3,385.9 724.3,385.1 727.0,387.3 729.7,389.5 736.5,389.5 739.2,387.3 741.9,382.4 744.6,373.8 747.3,368.4 751.4,363.0 754.6,365.7 758.1,364.9 762.2,366.5 766.2,367.6 770.3,369.7 774.3,366.5 778.4,363.0 782.4,361.6 786.5,362.2 791.9,362.2 795.1,358.4 800.0,356.8 804.1,352.2 808.1,353.5 812.2,350.3 815.4,344.1 817.6,342.2 821.6,342.2 825.7,340.5 829.7,338.6 835.1,337.3 839.2,335.1 843.2,332.4 847.3,333.8 851.4,330.5 854.1,333.2 858.1,331.1 862.2,326.5 866.2,321.1 870.3,318.4 873.0,321.1 874.3,324.6 879.7,325.1 882.4,321.1 885.1,317.0 889.2,312.4 893.2,310.8 897.3,313.5 901.4,314.3 905.4,306.2 908.1,311.6 910.8,317.8 914.9,311.6 918.9,313.0 923.0,306.2 925.7,296.8 928.4,294.1 931.1,298.1 935.1,294.9 937.8,300.8 941.1,306.2 943.8,312.4 946.5,302.2 949.2,294.1 952.7,300.8 956.2,302.7 959.5,298.1 962.7,291.4 966.2,290.0 968.9,288.6 973.0,288.1 975.7,286.8 979.7,288.6 983.2,291.4 986.5,287.3 990.5,283.2 994.6,284.6 997.8,281.9 1002.7,281.9 1006.8,280.5 1010.3,284.6 1012.2,288.6 1016.2,283.2 1020.3,279.2 1024.3,275.1 1027.0,275.1 1029.5,280.5 1032.2,287.3 1034.9,288.6 1037.6,295.4 1040.3,294.1 1043.0,288.6 1045.7,284.6 1048.4,283.2 1051.9,285.4 1056.5,283.8 1060.5,284.1 1063.2,288.6 1065.4,296.8 1067.3,302.7 1070.0,300.8 1072.7,292.7 1076.8,289.5 1078.9,295.4 1080.8,301.6 1084.3,296.8 1087.6,289.5 1090.8,288.6 1093.0,295.4 1096.2,304.3 1099.7,300.8 1104.3,293.2 1107.8,298.1 1111.9,307.6 1115.1,303.5 1117.3,295.9 1120.5,296.8 1124.1,303.5 1127.6,310.3 1130.3,314.3 1133.0,311.6 1136.2,306.2 1140.3,302.7 1143.8,301.6 1147.0,304.3 1149.7,307.6 1152.4,315.1 1156.5,319.7 1159.2,321.6 1171.4,321.6 1175.4,318.9 1179.5,314.3 1183.5,312.4 1187.6,312.4 1190.8,316.5 1193.0,321.1 1197.0,318.9 1201.1,318.4 1205.1,318.9 1206.5,320.5 1211.9,321.1 1220.0,321.9 1222.7,324.3 1228.1,325.7 1233.5,325.9 1238.9,329.7 1243.0,333.2 1247.0,334.6 1252.4,338.6 1257.8,343.2 1263.2,347.6 1267.3,348.6 1271.4,350.8 1276.8,354.9 1281.6,358.9 1284.9,360.8 1288.9,360.8 1294.3,363.5 1298.4,366.2 1303.8,367.6 1309.2,370.3 1314.6,371.1 1318.6,374.3 1322.7,377.8 1328.1,379.7 1333.5,382.7 1340.3,385.9 1344.3,386.8 1348.4,390.0 1353.8,392.7 1357.8,393.2 1361.9,396.8 1365.9,401.6 1370.0,406.2 1372.7,408.9 1376.8,414.3 1380.8,423.8 1383.5,429.2 1386.2,431.1 1388.9,431.1 1391.6,433.2 1394.3,440.0 1398.4,446.8 1402.4,452.2 1406.5,454.9 1410.5,457.6 1414.6,461.6 1418.6,466.5 1422.7,468.4 1426.8,471.9 1430.8,473.8 1434.9,477.8 1438.4,481.9 1444.9,482.4" fill="none" stroke="#ff0000" stroke-width="2" stroke-linejoin="round" />
<line x1="184" y1="376.5" x2="1448" y2="376.5" stroke="#ff0000" stroke-width="1" stroke-dasharray="18 6"/>
<g fill="#000">
<rect x="190" y="66" width="2" height="2"/>
<rect x="219" y="74" width="2" height="2"/>
<rect x="242" y="55" width="2" height="2"/>
<rect x="334" y="55" width="2" height="2"/>
<rect x="321" y="82" width="2" height="2"/>
<rect x="337" y="73" width="2" height="2"/>
<rect x="339" y="78" width="2" height="2"/>
<rect x="342" y="79" width="2" height="2"/>
<rect x="345" y="84" width="2" height="2"/>
<rect x="347" y="86" width="2" height="2"/>
<rect x="350" y="86" width="2" height="2"/>
<rect x="402" y="100" width="2" height="2"/>
<rect x="405" y="81" width="2" height="2"/>
<rect x="410" y="70" width="2" height="2"/>
<rect x="413" y="81" width="2" height="2"/>
<rect x="415" y="79" width="2" height="2"/>
<rect x="421" y="73" width="2" height="2"/>
<rect x="407" y="128" width="2" height="2"/>
<rect x="449" y="87" width="2" height="2"/>
<rect x="463" y="63" width="2" height="2"/>
<rect x="465" y="70" width="2" height="2"/>
<rect x="468" y="66" width="2" height="2"/>
<rect x="471" y="65" width="2" height="2"/>
<rect x="474" y="65" width="2" height="2"/>
<rect x="476" y="66" width="2" height="2"/>
<rect x="478" y="68" width="2" height="2"/>
<rect x="486" y="65" width="2" height="2"/>
<rect x="489" y="65" width="2" height="2"/>
<rect x="491" y="73" width="2" height="2"/>
<rect x="494" y="73" width="2" height="2"/>
<rect x="497" y="73" width="2" height="2"/>
<rect x="502" y="75" width="2" height="2"/>
<rect x="505" y="76" width="2" height="2"/>
<rect x="507" y="78" width="2" height="2"/>
<rect x="510" y="76" width="2" height="2"/>
<rect x="513" y="65" width="2" height="2"/>
<rect x="515" y="65" width="2" height="2"/>
<rect x="518" y="61" width="2" height="2"/>
<rect x="481" y="116" width="2" height="2"/>
<rect x="617" y="87" width="2" height="2"/>
<rect x="667" y="55" width="2" height="2"/>
<rect x="708" y="81" width="2" height="2"/>
<rect x="817" y="65" width="2" height="2"/>
<rect x="814" y="89" width="2" height="2"/>
<rect x="192" y="588" width="2" height="2"/>
<rect x="195" y="619" width="2" height="2"/>
<rect x="196" y="613" width="2" height="2"/>
<rect x="203" y="590" width="2" height="2"/>
<rect x="205" y="582" width="2" height="2"/>
<rect x="209" y="601" width="2" height="2"/>
<rect x="211" y="596" width="2" height="2"/>
<rect x="213" y="606" width="2" height="2"/>
<rect x="216" y="566" width="2" height="2"/>
<rect x="221" y="582" width="2" height="2"/>
<rect x="226" y="579" width="2" height="2"/>
<rect x="232" y="582" width="2" height="2"/>
<rect x="235" y="591" width="2" height="2"/>
<rect x="237" y="619" width="2" height="2"/>
<rect x="239" y="613" width="2" height="2"/>
<rect x="245" y="619" width="2" height="2"/>
<rect x="247" y="585" width="2" height="2"/>
<rect x="250" y="603" width="2" height="2"/>
<rect x="253" y="613" width="2" height="2"/>
<rect x="255" y="613" width="2" height="2"/>
<rect x="258" y="598" width="2" height="2"/>
<rect x="261" y="572" width="2" height="2"/>
<rect x="263" y="591" width="2" height="2"/>
<rect x="266" y="597" width="2" height="2"/>
<rect x="268" y="585" width="2" height="2"/>
<rect x="271" y="593" width="2" height="2"/>
<rect x="274" y="593" width="2" height="2"/>
<rect x="276" y="595" width="2" height="2"/>
<rect x="278" y="595" width="2" height="2"/>
<rect x="281" y="595" width="2" height="2"/>
<rect x="284" y="603" width="2" height="2"/>
<rect x="287" y="603" width="2" height="2"/>
<rect x="290" y="603" width="2" height="2"/>
<rect x="292" y="603" width="2" height="2"/>
<rect x="305" y="604" width="2" height="2"/>
<rect x="308" y="606" width="2" height="2"/>
<rect x="310" y="596" width="2" height="2"/>
<rect x="313" y="604" width="2" height="2"/>
<rect x="316" y="609" width="2" height="2"/>
<rect x="318" y="619" width="2" height="2"/>
<rect x="323" y="613" width="2" height="2"/>
<rect x="326" y="613" width="2" height="2"/>
<rect x="329" y="613" width="2" height="2"/>
<rect x="371" y="611" width="2" height="2"/>
<rect x="373" y="580" width="2" height="2"/>
<rect x="376" y="579" width="2" height="2"/>
<rect x="379" y="583" width="2" height="2"/>
<rect x="381" y="585" width="2" height="2"/>
<rect x="384" y="585" width="2" height="2"/>
<rect x="387" y="583" width="2" height="2"/>
<rect x="389" y="579" width="2" height="2"/>
<rect x="392" y="580" width="2" height="2"/>
<rect x="394" y="580" width="2" height="2"/>
<rect x="397" y="582" width="2" height="2"/>
<rect x="418" y="551" width="2" height="2"/>
<rect x="426" y="583" width="2" height="2"/>
<rect x="429" y="601" width="2" height="2"/>
<rect x="431" y="611" width="2" height="2"/>
<rect x="434" y="596" width="2" height="2"/>
<rect x="436" y="619" width="2" height="2"/>
<rect x="439" y="593" width="2" height="2"/>
<rect x="442" y="588" width="2" height="2"/>
<rect x="444" y="608" width="2" height="2"/>
<rect x="448" y="603" width="2" height="2"/>
<rect x="455" y="588" width="2" height="2"/>
<rect x="457" y="582" width="2" height="2"/>
<rect x="460" y="619" width="2" height="2"/>
<rect x="484" y="585" width="2" height="2"/>
<rect x="520" y="566" width="2" height="2"/>
<rect x="523" y="563" width="2" height="2"/>
<rect x="526" y="575" width="2" height="2"/>
<rect x="528" y="575" width="2" height="2"/>
<rect x="533" y="577" width="2" height="2"/>
<rect x="535" y="575" width="2" height="2"/>
<rect x="539" y="577" width="2" height="2"/>
<rect x="541" y="573" width="2" height="2"/>
<rect x="544" y="572" width="2" height="2"/>
<rect x="547" y="600" width="2" height="2"/>
<rect x="549" y="596" width="2" height="2"/>
<rect x="555" y="575" width="2" height="2"/>
<rect x="557" y="563" width="2" height="2"/>
<rect x="562" y="572" width="2" height="2"/>
<rect x="565" y="556" width="2" height="2"/>
<rect x="568" y="587" width="2" height="2"/>
<rect x="570" y="587" width="2" height="2"/>
<rect x="573" y="559" width="2" height="2"/>
<rect x="575" y="588" width="2" height="2"/>
<rect x="578" y="542" width="2" height="2"/>
<rect x="582" y="571" width="2" height="2"/>
<rect x="587" y="528" width="2" height="2"/>
<rect x="591" y="569" width="2" height="2"/>
<rect x="595" y="551" width="2" height="2"/>
<rect x="598" y="572" width="2" height="2"/>
<rect x="604" y="577" width="2" height="2"/>
<rect x="607" y="540" width="2" height="2"/>
<rect x="610" y="548" width="2" height="2"/>
<rect x="612" y="577" width="2" height="2"/>
<rect x="620" y="567" width="2" height="2"/>
<rect x="623" y="596" width="2" height="2"/>
<rect x="625" y="596" width="2" height="2"/>
<rect x="628" y="595" width="2" height="2"/>
<rect x="631" y="608" width="2" height="2"/>
<rect x="634" y="591" width="2" height="2"/>
<rect x="636" y="609" width="2" height="2"/>
<rect x="639" y="571" width="2" height="2"/>
<rect x="641" y="600" width="2" height="2"/>
<rect x="646" y="596" width="2" height="2"/>
<rect x="649" y="550" width="2" height="2"/>
<rect x="653" y="578" width="2" height="2"/>
<rect x="657" y="587" width="2" height="2"/>
<rect x="659" y="582" width="2" height="2"/>
<rect x="662" y="543" width="2" height="2"/>
<rect x="665" y="577" width="2" height="2"/>
<rect x="670" y="575" width="2" height="2"/>
<rect x="674" y="566" width="2" height="2"/>
<rect x="678" y="573" width="2" height="2"/>
<rect x="681" y="585" width="2" height="2"/>
<rect x="684" y="577" width="2" height="2"/>
<rect x="686" y="577" width="2" height="2"/>
<rect x="688" y="596" width="2" height="2"/>
<rect x="694" y="587" width="2" height="2"/>
<rect x="701" y="559" width="2" height="2"/>
<rect x="704" y="548" width="2" height="2"/>
<rect x="712" y="535" width="2" height="2"/>
<rect x="715" y="508" width="2" height="2"/>
<rect x="717" y="582" width="2" height="2"/>
<rect x="720" y="578" width="2" height="2"/>
<rect x="725" y="619" width="2" height="2"/>
<rect x="728" y="558" width="2" height="2"/>
<rect x="733" y="553" width="2" height="2"/>
<rect x="736" y="591" width="2" height="2"/>
<rect x="743" y="559" width="2" height="2"/>
<rect x="749" y="553" width="2" height="2"/>
<rect x="751" y="522" width="2" height="2"/>
<rect x="757" y="559" width="2" height="2"/>
<rect x="759" y="598" width="2" height="2"/>
<rect x="762" y="530" width="2" height="2"/>
<rect x="765" y="606" width="2" height="2"/>
<rect x="767" y="592" width="2" height="2"/>
<rect x="770" y="545" width="2" height="2"/>
<rect x="772" y="577" width="2" height="2"/>
<rect x="775" y="580" width="2" height="2"/>
<rect x="780" y="574" width="2" height="2"/>
<rect x="784" y="566" width="2" height="2"/>
<rect x="788" y="538" width="2" height="2"/>
<rect x="791" y="603" width="2" height="2"/>
<rect x="796" y="546" width="2" height="2"/>
<rect x="801" y="530" width="2" height="2"/>
<rect x="804" y="603" width="2" height="2"/>
<rect x="807" y="582" width="2" height="2"/>
<rect x="809" y="609" width="2" height="2"/>
<rect x="812" y="555" width="2" height="2"/>
<rect x="821" y="559" width="2" height="2"/>
<rect x="822" y="585" width="2" height="2"/>
<rect x="825" y="577" width="2" height="2"/>
<rect x="827" y="604" width="2" height="2"/>
<rect x="830" y="529" width="2" height="2"/>
<rect x="832" y="563" width="2" height="2"/>
<rect x="835" y="545" width="2" height="2"/>
<rect x="838" y="545" width="2" height="2"/>
<rect x="846" y="572" width="2" height="2"/>
<rect x="849" y="556" width="2" height="2"/>
<rect x="850" y="572" width="2" height="2"/>
<rect x="854" y="543" width="2" height="2"/>
<rect x="856" y="517" width="2" height="2"/>
<rect x="859" y="556" width="2" height="2"/>
<rect x="864" y="534" width="2" height="2"/>
<rect x="867" y="619" width="2" height="2"/>
<rect x="869" y="559" width="2" height="2"/>
<rect x="875" y="542" width="2" height="2"/>
<rect x="880" y="551" width="2" height="2"/>
<rect x="885" y="538" width="2" height="2"/>
<rect x="889" y="521" width="2" height="2"/>
<rect x="891" y="582" width="2" height="2"/>
<rect x="893" y="600" width="2" height="2"/>
<rect x="896" y="519" width="2" height="2"/>
<rect x="899" y="535" width="2" height="2"/>
<rect x="901" y="540" width="2" height="2"/>
<rect x="904" y="513" width="2" height="2"/>
<rect x="907" y="532" width="2" height="2"/>
<rect x="912" y="563" width="2" height="2"/>
<rect x="917" y="558" width="2" height="2"/>
<rect x="919" y="538" width="2" height="2"/>
<rect x="922" y="548" width="2" height="2"/>
<rect x="925" y="525" width="2" height="2"/>
<rect x="927" y="530" width="2" height="2"/>
<rect x="930" y="580" width="2" height="2"/>
<rect x="933" y="556" width="2" height="2"/>
<rect x="936" y="538" width="2" height="2"/>
<rect x="940" y="570" width="2" height="2"/>
<rect x="943" y="529" width="2" height="2"/>
<rect x="946" y="508" width="2" height="2"/>
<rect x="948" y="588" width="2" height="2"/>
<rect x="953" y="529" width="2" height="2"/>
<rect x="957" y="538" width="2" height="2"/>
<rect x="961" y="511" width="2" height="2"/>
<rect x="964" y="577" width="2" height="2"/>
<rect x="967" y="558" width="2" height="2"/>
<rect x="972" y="545" width="2" height="2"/>
<rect x="975" y="513" width="2" height="2"/>
<rect x="980" y="553" width="2" height="2"/>
<rect x="982" y="503" width="2" height="2"/>
<rect x="988" y="582" width="2" height="2"/>
<rect x="990" y="556" width="2" height="2"/>
<rect x="993" y="609" width="2" height="2"/>
<rect x="995" y="513" width="2" height="2"/>
<rect x="998" y="519" width="2" height="2"/>
<rect x="1001" y="537" width="2" height="2"/>
<rect x="1003" y="541" width="2" height="2"/>
<rect x="1006" y="532" width="2" height="2"/>
<rect x="1009" y="511" width="2" height="2"/>
<rect x="1015" y="533" width="2" height="2"/>
<rect x="1019" y="585" width="2" height="2"/>
<rect x="1022" y="598" width="2" height="2"/>
<rect x="1032" y="513" width="2" height="2"/>
<rect x="1035" y="575" width="2" height="2"/>
<rect x="1037" y="613" width="2" height="2"/>
<rect x="1040" y="592" width="2" height="2"/>
<rect x="1043" y="592" width="2" height="2"/>
<rect x="1046" y="553" width="2" height="2"/>
<rect x="1048" y="553" width="2" height="2"/>
<rect x="1051" y="600" width="2" height="2"/>
<rect x="1053" y="582" width="2" height="2"/>
<rect x="1059" y="619" width="2" height="2"/>
<rect x="1061" y="592" width="2" height="2"/>
<rect x="1064" y="550" width="2" height="2"/>
<rect x="1066" y="579" width="2" height="2"/>
<rect x="1069" y="585" width="2" height="2"/>
<rect x="1072" y="550" width="2" height="2"/>
<rect x="1074" y="535" width="2" height="2"/>
<rect x="1077" y="566" width="2" height="2"/>
<rect x="1079" y="619" width="2" height="2"/>
<rect x="1082" y="575" width="2" height="2"/>
<rect x="1087" y="585" width="2" height="2"/>
<rect x="1093" y="563" width="2" height="2"/>
<rect x="1095" y="572" width="2" height="2"/>
<rect x="1101" y="550" width="2" height="2"/>
<rect x="1103" y="564" width="2" height="2"/>
<rect x="1106" y="542" width="2" height="2"/>
<rect x="1108" y="587" width="2" height="2"/>
<rect x="1111" y="574" width="2" height="2"/>
<rect x="1114" y="509" width="2" height="2"/>
<rect x="1116" y="521" width="2" height="2"/>
<rect x="1120" y="563" width="2" height="2"/>
<rect x="1121" y="525" width="2" height="2"/>
<rect x="1127" y="563" width="2" height="2"/>
<rect x="1129" y="569" width="2" height="2"/>
<rect x="1130" y="562" width="2" height="2"/>
<rect x="1132" y="542" width="2" height="2"/>
<rect x="1137" y="532" width="2" height="2"/>
<rect x="1140" y="577" width="2" height="2"/>
<rect x="1143" y="574" width="2" height="2"/>
<rect x="1144" y="564" width="2" height="2"/>
<rect x="1148" y="585" width="2" height="2"/>
<rect x="1153" y="574" width="2" height="2"/>
<rect x="1156" y="569" width="2" height="2"/>
<rect x="1158" y="579" width="2" height="2"/>
<rect x="1162" y="543" width="2" height="2"/>
<rect x="1166" y="564" width="2" height="2"/>
<rect x="1167" y="529" width="2" height="2"/>
<rect x="1171" y="582" width="2" height="2"/>
<rect x="1174" y="559" width="2" height="2"/>
<rect x="1177" y="556" width="2" height="2"/>
<rect x="1182" y="548" width="2" height="2"/>
<rect x="1185" y="598" width="2" height="2"/>
<rect x="1187" y="619" width="2" height="2"/>
<rect x="1192" y="566" width="2" height="2"/>
<rect x="1195" y="542" width="2" height="2"/>
<rect x="1200" y="563" width="2" height="2"/>
<rect x="1203" y="545" width="2" height="2"/>
<rect x="1208" y="569" width="2" height="2"/>
<rect x="1211" y="532" width="2" height="2"/>
<rect x="1213" y="538" width="2" height="2"/>
<rect x="1219" y="583" width="2" height="2"/>
<rect x="1221" y="596" width="2" height="2"/>
<rect x="1227" y="590" width="2" height="2"/>
<rect x="1229" y="566" width="2" height="2"/>
<rect x="1232" y="530" width="2" height="2"/>
<rect x="1234" y="567" width="2" height="2"/>
<rect x="1237" y="569" width="2" height="2"/>
<rect x="1240" y="535" width="2" height="2"/>
<rect x="1242" y="588" width="2" height="2"/>
<rect x="1245" y="585" width="2" height="2"/>
<rect x="1247" y="548" width="2" height="2"/>
<rect x="1250" y="566" width="2" height="2"/>
<rect x="1253" y="551" width="2" height="2"/>
<rect x="1258" y="569" width="2" height="2"/>
<rect x="1263" y="574" width="2" height="2"/>
<rect x="1267" y="538" width="2" height="2"/>
<rect x="1271" y="551" width="2" height="2"/>
<rect x="1275" y="559" width="2" height="2"/>
<rect x="1279" y="578" width="2" height="2"/>
<rect x="1281" y="583" width="2" height="2"/>
<rect x="1284" y="572" width="2" height="2"/>
<rect x="1287" y="579" width="2" height="2"/>
<rect x="1288" y="558" width="2" height="2"/>
<rect x="1292" y="571" width="2" height="2"/>
<rect x="1296" y="569" width="2" height="2"/>
<rect x="1300" y="583" width="2" height="2"/>
<rect x="1303" y="558" width="2" height="2"/>
<rect x="1307" y="553" width="2" height="2"/>
<rect x="1311" y="556" width="2" height="2"/>
<rect x="1313" y="559" width="2" height="2"/>
<rect x="1318" y="537" width="2" height="2"/>
<rect x="1321" y="535" width="2" height="2"/>
<rect x="1324" y="548" width="2" height="2"/>
<rect x="1326" y="551" width="2" height="2"/>
<rect x="1331" y="551" width="2" height="2"/>
<rect x="1329" y="569" width="2" height="2"/>
<rect x="1334" y="553" width="2" height="2"/>
<rect x="1337" y="563" width="2" height="2"/>
<rect x="1339" y="561" width="2" height="2"/>
<rect x="1342" y="567" width="2" height="2"/>
<rect x="1345" y="569" width="2" height="2"/>
<rect x="1347" y="556" width="2" height="2"/>
<rect x="1350" y="575" width="2" height="2"/>
<rect x="1353" y="548" width="2" height="2"/>
<rect x="1355" y="553" width="2" height="2"/>
<rect x="1358" y="553" width="2" height="2"/>
<rect x="1360" y="553" width="2" height="2"/>
<rect x="1363" y="553" width="2" height="2"/>
<rect x="1366" y="553" width="2" height="2"/>
<rect x="1368" y="553" width="2" height="2"/>
<rect x="652" y="488" width="2" height="2"/>
<rect x="754" y="475" width="2" height="2"/>
<rect x="715" y="508" width="2" height="2"/>
<rect x="841" y="479" width="2" height="2"/>
<rect x="909" y="479" width="2" height="2"/>
<rect x="904" y="512" width="2" height="2"/>
<rect x="896" y="519" width="2" height="2"/>
<rect x="888" y="520" width="2" height="2"/>
<rect x="856" y="517" width="2" height="2"/>
<rect x="950" y="487" width="2" height="2"/>
<rect x="946" y="508" width="2" height="2"/>
<rect x="961" y="511" width="2" height="2"/>
<rect x="976" y="512" width="2" height="2"/>
<rect x="977" y="497" width="2" height="2"/>
<rect x="983" y="503" width="2" height="2"/>
<rect x="999" y="519" width="2" height="2"/>
<rect x="995" y="513" width="2" height="2"/>
<rect x="925" y="525" width="2" height="2"/>
<rect x="944" y="528" width="2" height="2"/>
<rect x="953" y="528" width="2" height="2"/>
<rect x="750" y="521" width="2" height="2"/>
<rect x="763" y="530" width="2" height="2"/>
<rect x="800" y="530" width="2" height="2"/>
<rect x="830" y="528" width="2" height="2"/>
<rect x="1033" y="513" width="2" height="2"/>
<rect x="1064" y="549" width="2" height="2"/>
<rect x="1046" y="553" width="2" height="2"/>
<rect x="1074" y="535" width="2" height="2"/>
<rect x="1124" y="492" width="2" height="2"/>
<rect x="1114" y="509" width="2" height="2"/>
<rect x="1318" y="536" width="2" height="2"/>
<rect x="1321" y="534" width="2" height="2"/>
<rect x="1324" y="548" width="2" height="2"/>
<rect x="1330" y="550" width="2" height="2"/>
<rect x="1334" y="553" width="2" height="2"/>
<rect x="1339" y="562" width="2" height="2"/>
<rect x="1343" y="566" width="2" height="2"/>
<rect x="1347" y="556" width="2" height="2"/>
<rect x="1350" y="574" width="2" height="2"/>
<rect x="1353" y="548" width="2" height="2"/>
<rect x="1357" y="553" width="2" height="2"/>
<rect x="1360" y="553" width="2" height="2"/>
<rect x="1364" y="553" width="2" height="2"/>
<rect x="1368" y="553" width="2" height="2"/>
<rect x="1232" y="530" width="2" height="2"/>
<rect x="1241" y="535" width="2" height="2"/>
<rect x="1250" y="565" width="2" height="2"/>
<rect x="1268" y="535" width="2" height="2"/>
<rect x="1192" y="542" width="2" height="2"/>
</g>
</g>
<g shape-rendering="crispEdges">
<rect x="40" y="48" width="1" height="581" fill="#808080"/>
<rect x="36" y="48" width="9" height="1" fill="#808080"/>
<rect x="36" y="120" width="4" height="1" fill="#808080"/>
<rect x="36" y="193" width="4" height="1" fill="#808080"/>
<rect x="36" y="266" width="4" height="1" fill="#808080"/>
<rect x="36" y="338" width="4" height="1" fill="#808080"/>
<rect x="36" y="410" width="4" height="1" fill="#808080"/>
<rect x="36" y="483" width="4" height="1" fill="#808080"/>
<rect x="36" y="556" width="4" height="1" fill="#808080"/>
<rect x="36" y="628" width="9" height="1" fill="#808080"/>
</g>
<text transform="translate(34 53) scale(1 1.125)" text-anchor="end" fill="#ff0000" >35.0</text>
<text transform="translate(34 125) scale(1 1.125)" text-anchor="end" fill="#ff0000" >30.0</text>
<text transform="translate(34 198) scale(1 1.125)" text-anchor="end" fill="#ff0000" >25.0</text>
<text transform="translate(34 271) scale(1 1.125)" text-anchor="end" fill="#ff0000" >20.0</text>
<text transform="translate(34 343) scale(1 1.125)" text-anchor="end" fill="#ff0000" >15.0</text>
<text transform="translate(34 415) scale(1 1.125)" text-anchor="end" fill="#ff0000" >10.0</text>
<text transform="translate(34 488) scale(1 1.125)" text-anchor="end" fill="#ff0000" >5.0</text>
<text transform="translate(34 561) scale(1 1.125)" text-anchor="end" fill="#ff0000" >0.0</text>
<text transform="translate(34 633) scale(1 1.125)" text-anchor="end" fill="#ff0000" >-5.0</text>
<text transform="translate(20 37) scale(1 1.125)" fill="#ff0000" >°C</text>
<g shape-rendering="crispEdges">
<rect x="77" y="48" width="1" height="581" fill="#808080"/>
<rect x="73" y="48" width="9" height="1" fill="#808080"/>
<rect x="73" y="120" width="4" height="1" fill="#808080"/>
<rect x="73" y="193" width="4" height="1" fill="#808080"/>
<rect x="73" y="266" width="4" height="1" fill="#808080"/>
<rect x="73" y="338" width="4" height="1" fill="#808080"/>
<rect x="73" y="410" width="4" height="1" fill="#808080"/>
<rect x="73" y="483" width="4" height="1" fill="#808080"/>
<rect x="73" y="556" width="4" height="1" fill="#808080"/>
<rect x="73" y="628" width="9" height="1" fill="#808080"/>
</g>
<text transform="translate(71 53) scale(1 1.125)" text-anchor="end" fill="#00b000" >1050</text>
<text transform="translate(71 125) scale(1 1.125)" text-anchor="end" fill="#00b000" >1040</text>
<text transform="translate(71 198) scale(1 1.125)" text-anchor="end" fill="#00b000" >1030</text>
<text transform="translate(71 271) scale(1 1.125)" text-anchor="end" fill="#00b000" >1020</text>
<text transform="translate(71 343) scale(1 1.125)" text-anchor="end" fill="#00b000" >1010</text>
<text transform="translate(71 415) scale(1 1.125)" text-anchor="end" fill="#00b000" >1000</text>
<text transform="translate(71 488) scale(1 1.125)" text-anchor="end" fill="#00b000" >990</text>
<text transform="translate(71 561) scale(1 1.125)" text-anchor="end" fill="#00b000" >980</text>
<text transform="translate(71 633) scale(1 1.125)" text-anchor="end" fill="#00b000" >970</text>
<text transform="translate(48 37) scale(1 1.125)" fill="#00b000" >hPa</text>
<g shape-rendering="crispEdges">
<rect x="114" y="48" width="1" height="581" fill="#808080"/>
<rect x="110" y="48" width="9" height="1" fill="#808080"/>
<rect x="110" y="96" width="4" height="1" fill="#808080"/>
<rect x="110" y="145" width="4" height="1" fill="#808080"/>
<rect x="110" y="193" width="4" height="1" fill="#808080"/>
<rect x="110" y="241" width="4" height="1" fill="#808080"/>
<rect x="110" y="290" width="4" height="1" fill="#808080"/>
<rect x="110" y="338" width="4" height="1" fill="#808080"/>
<rect x="110" y="386" width="4" height="1" fill="#808080"/>
<rect x="110" y="435" width="4" height="1" fill="#808080"/>
<rect x="110" y="483" width="4" height="1" fill="#808080"/>
<rect x="110" y="531" width="4" height="1" fill="#808080"/>
<rect x="110" y="580" width="4" height="1" fill="#808080"/>
<rect x="110" y="628" width="9" height="1" fill="#808080"/>
</g>
<text transform="translate(108 53) scale(1 1.125)" text-anchor="end" >120.0</text>
<text transform="translate(108 101) scale(1 1.125)" text-anchor="end" >110.0</text>
<text transform="translate(108 150) scale(1 1.125)" text-anchor="end" >100.0</text>
<text transform="translate(108 198) scale(1 1.125)" text-anchor="end" >90.0</text>
<text transform="translate(108 246) scale(1 1.125)" text-anchor="end" >80.0</text>
<text transform="translate(108 295) scale(1 1.125)" text-anchor="end" >70.0</text>
<text transform="translate(108 343) scale(1 1.125)" text-anchor="end" >60.0</text>
<text transform="translate(108 391) scale(1 1.125)" text-anchor="end" >50.0</text>
<text transform="translate(108 440) scale(1 1.125)" text-anchor="end" >40.0</text>
<text transform="translate(108 488) scale(1 1.125)" text-anchor="end" >30.0</text>
<text transform="translate(108 536) scale(1 1.125)" text-anchor="end" >20.0</text>
<text transform="translate(108 585) scale(1 1.125)" text-anchor="end" >10.0</text>
<text transform="translate(108 633) scale(1 1.125)" text-anchor="end" >0.0</text>
<text transform="translate(79 37) scale(1 1.125)" >km/h</text>
<g shape-rendering="crispEdges">
<rect x="151" y="48" width="1" height="581" fill="#808080"/>
<rect x="147" y="48" width="9" height="1" fill="#808080"/>
<rect x="147" y="145" width="4" height="1" fill="#808080"/>
<rect x="147" y="241" width="4" height="1" fill="#808080"/>
<rect x="147" y="338" width="4" height="1" fill="#808080"/>
<rect x="147" y="435" width="4" height="1" fill="#808080"/>
<rect x="147" y="531" width="4" height="1" fill="#808080"/>
<rect x="147" y="628" width="9" height="1" fill="#808080"/>
</g>
<text transform="translate(145 53) scale(1 1.125)" text-anchor="end" fill="#ffc000" >30</text>
<text transform="translate(145 150) scale(1 1.125)" text-anchor="end" fill="#ffc000" >25</text>
<text transform="translate(145 246) scale(1 1.125)" text-anchor="end" fill="#ffc000" >20</text>
<text transform="translate(145 343) scale(1 1.125)" text-anchor="end" fill="#ffc000" >15</text>
<text transform="translate(145 440) scale(1 1.125)" text-anchor="end" fill="#ffc000" >10</text>
<text transform="translate(145 536) scale(1 1.125)" text-anchor="end" fill="#ffc000" >5</text>
<text transform="translate(145 633) scale(1 1.125)" text-anchor="end" fill="#ffc000" >0</text>
<text transform="translate(125 37) scale(1 1.125)" fill="#ffc000" >min</text>
<g shape-rendering="crispEdges">
<rect x="184" y="48" width="4" height="1" fill="#808080"/>
<rect x="184" y="120" width="4" height="1" fill="#808080"/>
<rect x="184" y="193" width="4" height="1" fill="#808080"/>
<rect x="184" y="266" width="4" height="1" fill="#808080"/>
<rect x="184" y="338" width="4" height="1" fill="#808080"/>
<rect x="184" y="410" width="4" height="1" fill="#808080"/>
<rect x="184" y="483" width="4" height="1" fill="#808080"/>
<rect x="184" y="556" width="4" height="1" fill="#808080"/>
<rect x="184" y="628" width="4" height="1" fill="#808080"/>
</g>
<text transform="translate(182 53) scale(1 1.125)" text-anchor="end" fill="#ff8000" >1200</text>
<text transform="translate(182 125) scale(1 1.125)" text-anchor="end" fill="#ff8000" >1050</text>
<text transform="translate(182 198) scale(1 1.125)" text-anchor="end" fill="#ff8000" >900</text>
<text transform="translate(182 271) scale(1 1.125)" text-anchor="end" fill="#ff8000" >750</text>
<text transform="translate(182 343) scale(1 1.125)" text-anchor="end" fill="#ff8000" >600</text>
<text transform="translate(182 415) scale(1 1.125)" text-anchor="end" fill="#ff8000" >450</text>
<text transform="translate(182 488) scale(1 1.125)" text-anchor="end" fill="#ff8000" >300</text>
<text transform="translate(182 561) scale(1 1.125)" text-anchor="end" fill="#ff8000" >150</text>
<text transform="translate(182 633) scale(1 1.125)" text-anchor="end" fill="#ff8000" >0</text>
<text transform="translate(151 37) scale(1 1.125)" fill="#ff8000">W/m<tspan font-size="7" dy="-4">2</tspan></text>
<g shape-rendering="crispEdges">
<rect x="1449" y="48" width="4" height="1" fill="#808080"/>
<rect x="1449" y="120" width="4" height="1" fill="#808080"/>
<rect x="1449" y="193" width="4" height="1" fill="#808080"/>
<rect x="1449" y="266" width="4" height="1" fill="#808080"/>
<rect x="1449" y="338" width="4" height="1" fill="#808080"/>
<rect x="1449" y="410" width="4" height="1" fill="#808080"/>
<rect x="1449" y="483" width="4" height="1" fill="#808080"/>
<rect x="1449" y="556" width="4" height="1" fill="#808080"/>
<rect x="1449" y="628" width="4" height="1" fill="#808080"/>
</g>
<text transform="translate(1454 53) scale(1 1.125)" fill="#0000ff" >100</text>
<text transform="translate(1454 125) scale(1 1.125)" fill="#0000ff" >90</text>
<text transform="translate(1454 198) scale(1 1.125)" fill="#0000ff" >80</text>
<text transform="translate(1454 271) scale(1 1.125)" fill="#0000ff" >70</text>
<text transform="translate(1454 343) scale(1 1.125)" fill="#0000ff" >60</text>
<text transform="translate(1454 415) scale(1 1.125)" fill="#0000ff" >50</text>
<text transform="translate(1454 488) scale(1 1.125)" fill="#0000ff" >40</text>
<text transform="translate(1454 561) scale(1 1.125)" fill="#0000ff" >30</text>
<text transform="translate(1454 633) scale(1 1.125)" fill="#0000ff" >20</text>
<text transform="translate(1449 37) scale(1 1.125)" fill="#0000ff" >%</text>
<g shape-rendering="crispEdges">
<rect x="1485" y="48" width="1" height="581" fill="#808080"/>
<rect x="1481" y="48" width="9" height="1" fill="#808080"/>
<rect x="1486" y="120" width="4" height="1" fill="#808080"/>
<rect x="1486" y="193" width="4" height="1" fill="#808080"/>
<rect x="1486" y="266" width="4" height="1" fill="#808080"/>
<rect x="1486" y="338" width="4" height="1" fill="#808080"/>
<rect x="1486" y="410" width="4" height="1" fill="#808080"/>
<rect x="1486" y="483" width="4" height="1" fill="#808080"/>
<rect x="1486" y="556" width="4" height="1" fill="#808080"/>
<rect x="1481" y="628" width="9" height="1" fill="#808080"/>
</g>
<text transform="translate(1492 53) scale(1 1.125)" fill="#0099ff" >16.0</text>
<text transform="translate(1492 125) scale(1 1.125)" fill="#0099ff" >14.0</text>
<text transform="translate(1492 198) scale(1 1.125)" fill="#0099ff" >12.0</text>
<text transform="translate(1492 271) scale(1 1.125)" fill="#0099ff" >10.0</text>
<text transform="translate(1492 343) scale(1 1.125)" fill="#0099ff" >8.0</text>
<text transform="translate(1492 415) scale(1 1.125)" fill="#0099ff" >6.0</text>
<text transform="translate(1492 488) scale(1 1.125)" fill="#0099ff" >4.0</text>
<text transform="translate(1492 561) scale(1 1.125)" fill="#0099ff" >2.0</text>
<text transform="translate(1492 633) scale(1 1.125)" fill="#0099ff" >0.0</text>
<text transform="translate(1485 37) scale(1 1.125)" fill="#0099ff">l/m<tspan font-size="7" dy="-4">2</tspan></text>
<g shape-rendering="crispEdges">
<rect x="1522" y="48" width="1" height="581" fill="#808080"/>
<rect x="1518" y="48" width="9" height="1" fill="#808080"/>
<rect x="1523" y="120" width="4" height="1" fill="#808080"/>
<rect x="1523" y="193" width="4" height="1" fill="#808080"/>
<rect x="1523" y="266" width="4" height="1" fill="#808080"/>
<rect x="1523" y="338" width="4" height="1" fill="#808080"/>
<rect x="1523" y="410" width="4" height="1" fill="#808080"/>
<rect x="1523" y="483" width="4" height="1" fill="#808080"/>
<rect x="1523" y="556" width="4" height="1" fill="#808080"/>
<rect x="1518" y="628" width="9" height="1" fill="#808080"/>
</g>
<text transform="translate(1529 53) scale(1 1.125)" >360</text>
<text transform="translate(1529 125) scale(1 1.125)" >315</text>
<text transform="translate(1529 198) scale(1 1.125)" >270</text>
<text transform="translate(1529 271) scale(1 1.125)" >225</text>
<text transform="translate(1529 343) scale(1 1.125)" >180</text>
<text transform="translate(1529 415) scale(1 1.125)" >135</text>
<text transform="translate(1529 488) scale(1 1.125)" >90</text>
<text transform="translate(1529 561) scale(1 1.125)" >45</text>
<text transform="translate(1529 633) scale(1 1.125)" >0</text>
<text transform="translate(1523 37) scale(1 1.125)" >°</text>
<text transform="translate(1548.5 53) scale(1 1.125)" >N</text>
<text transform="translate(1548.5 198) scale(1 1.125)" >W</text>
<text transform="translate(1548.5 343) scale(1 1.125)" >S</text>
<text transform="translate(1548.5 488) scale(1 1.125)" >O</text>
<text transform="translate(1548.5 633) scale(1 1.125)" >N</text>
<g shape-rendering="crispEdges">
<rect x="1559" y="48" width="1" height="581" fill="#808080"/>
<rect x="1555" y="48" width="9" height="1" fill="#808080"/>
<rect x="1560" y="120" width="4" height="1" fill="#808080"/>
<rect x="1560" y="193" width="4" height="1" fill="#808080"/>
<rect x="1560" y="266" width="4" height="1" fill="#808080"/>
<rect x="1560" y="338" width="4" height="1" fill="#808080"/>
<rect x="1560" y="410" width="4" height="1" fill="#808080"/>
<rect x="1560" y="483" width="4" height="1" fill="#808080"/>
<rect x="1560" y="556" width="4" height="1" fill="#808080"/>
<rect x="1555" y="628" width="9" height="1" fill="#808080"/>
</g>
<text transform="translate(1566 53) scale(1 1.125)" fill="#ff0080" >16.0</text>
<text transform="translate(1566 125) scale(1 1.125)" fill="#ff0080" >14.0</text>
<text transform="translate(1566 198) scale(1 1.125)" fill="#ff0080" >12.0</text>
<text transform="translate(1566 271) scale(1 1.125)" fill="#ff0080" >10.0</text>
<text transform="translate(1566 343) scale(1 1.125)" fill="#ff0080" >8.0</text>
<text transform="translate(1566 415) scale(1 1.125)" fill="#ff0080" >6.0</text>
<text transform="translate(1566 488) scale(1 1.125)" fill="#ff0080" >4.0</text>
<text transform="translate(1566 561) scale(1 1.125)" fill="#ff0080" >2.0</text>
<text transform="translate(1566 633) scale(1 1.125)" fill="#ff0080" >0.0</text>
<text transform="translate(1559 37) scale(1 1.125)" fill="#ff0080" >UV-I</text>
<g shape-rendering="crispEdges" fill="#808080">
<rect x="188" y="629" width="1" height="4"/>
<rect x="240" y="629" width="1" height="4"/>
<rect x="293" y="629" width="1" height="4"/>
<rect x="346" y="629" width="1" height="4"/>
<rect x="398" y="629" width="1" height="4"/>
<rect x="450" y="629" width="1" height="4"/>
<rect x="503" y="629" width="1" height="4"/>
<rect x="556" y="629" width="1" height="4"/>
<rect x="608" y="629" width="1" height="4"/>
<rect x="660" y="629" width="1" height="4"/>
<rect x="713" y="629" width="1" height="4"/>
<rect x="766" y="629" width="1" height="4"/>
<rect x="818" y="629" width="1" height="4"/>
<rect x="870" y="629" width="1" height="4"/>
<rect x="923" y="629" width="1" height="4"/>
<rect x="976" y="629" width="1" height="4"/>
<rect x="1028" y="629" width="1" height="4"/>
<rect x="1080" y="629" width="1" height="4"/>
<rect x="1133" y="629" width="1" height="4"/>
<rect x="1186" y="629" width="1" height="4"/>
<rect x="1238" y="629" width="1" height="4"/>
<rect x="1290" y="629" width="1" height="4"/>
<rect x="1343" y="629" width="1" height="4"/>
<rect x="1396" y="629" width="1" height="4"/>
<rect x="1448" y="629" width="1" height="4"/>
</g>
<text transform="translate(188.5 647) scale(1 1.125)" text-anchor="middle" >00:00</text>
<text transform="translate(240.5 647) scale(1 1.125)" text-anchor="middle" >01:00</text>
<text transform="translate(293.5 647) scale(1 1.125)" text-anchor="middle" >02:00</text>
<text transform="translate(346.5 647) scale(1 1.125)" text-anchor="middle" >03:00</text>
<text transform="translate(398.5 647) scale(1 1.125)" text-anchor="middle" >04:00</text>
<text transform="translate(450.5 647) scale(1 1.125)" text-anchor="middle" >05:00</text>
<text transform="translate(503.5 647) scale(1 1.125)" text-anchor="middle" >06:00</text>
<text transform="translate(556.5 647) scale(1 1.125)" text-anchor="middle" >07:00</text>
<text transform="translate(608.5 647) scale(1 1.125)" text-anchor="middle" >08:00</text>
<text transform="translate(660.5 647) scale(1 1.125)" text-anchor="middle" >09:00</text>
<text transform="translate(713.5 647) scale(1 1.125)" text-anchor="middle" >10:00</text>
<text transform="translate(766.5 647) scale(1 1.125)" text-anchor="middle" >11:00</text>
<text transform="translate(818.5 647) scale(1 1.125)" text-anchor="middle" >12:00</text>
<text transform="translate(870.5 647) scale(1 1.125)" text-anchor="middle" >13:00</text>
<text transform="translate(923.5 647) scale(1 1.125)" text-anchor="middle" >14:00</text>
<text transform="translate(976.5 647) scale(1 1.125)" text-anchor="middle" >15:00</text>
<text transform="translate(1028.5 647) scale(1 1.125)" text-anchor="middle" >16:00</text>
<text transform="translate(1080.5 647) scale(1 1.125)" text-anchor="middle" >17:00</text>
<text transform="translate(1133.5 647) scale(1 1.125)" text-anchor="middle" >18:00</text>
<text transform="translate(1186.5 647) scale(1 1.125)" text-anchor="middle" >19:00</text>
<text transform="translate(1238.5 647) scale(1 1.125)" text-anchor="middle" >20:00</text>
<text transform="translate(1290.5 647) scale(1 1.125)" text-anchor="middle" >21:00</text>
<text transform="translate(1343.5 647) scale(1 1.125)" text-anchor="middle" >22:00</text>
<text transform="translate(1396.5 647) scale(1 1.125)" text-anchor="middle" >23:00</text>
<text transform="translate(1448.5 647) scale(1 1.125)" text-anchor="middle" >24:00</text>
<text x="802.5" y="21" text-anchor="middle" font-size="16" >Donnerstag, 15.05.2025</text>
<g shape-rendering="crispEdges">
<rect x="198.5" y="33.5" width="9" height="9" fill="#ff0000" stroke="#000" stroke-width="1"/>
<rect x="293.5" y="33.5" width="9" height="9" fill="#0000ff" stroke="#000" stroke-width="1"/>
<rect x="388.5" y="33.5" width="9" height="9" fill="#00b000" stroke="#000" stroke-width="1"/>
<rect x="483.5" y="33.5" width="9" height="9" fill="#0099ff" stroke="#000" stroke-width="1"/>
<rect x="578.5" y="33.5" width="9" height="9" fill="#000000" stroke="#000" stroke-width="1"/>
<rect x="673.5" y="33.5" width="9" height="9" fill="#000000" stroke="#000" stroke-width="1"/>
<rect x="768.5" y="33.5" width="9" height="9" fill="#ffc000" stroke="#000" stroke-width="1"/>
<rect x="863.5" y="33.5" width="9" height="9" fill="#800080" stroke="#000" stroke-width="1"/>
<rect x="958.5" y="33.5" width="9" height="9" fill="#ff0080" stroke="#000" stroke-width="1"/>
<rect x="1053.5" y="33.5" width="9" height="9" fill="#ff8000" stroke="#000" stroke-width="1"/>
<rect x="1148.5" y="33.5" width="9" height="9" fill="#ff0080" stroke="#000" stroke-width="1"/>
<rect x="1243.5" y="33.5" width="9" height="9" fill="#804000" stroke="#000" stroke-width="1"/>
<path d="M1338.5 42V33.5H1347.5V42.5H1344" fill="none" stroke="#ff0000" stroke-width="1"/>
</g>
<text transform="translate(213 42) scale(1 1.125)" fill="#ff0000" >Temp. A.</text>
<text transform="translate(308 42) scale(1 1.125)" fill="#0000ff" >Feuchte A.</text>
<text transform="translate(403 42) scale(1 1.125)" fill="#00b000" >Luftdruck</text>
<text transform="translate(498 42) scale(1 1.125)" fill="#0099ff" >Regen</text>
<text transform="translate(593 42) scale(1 1.125)" >Wind</text>
<text transform="translate(688 42) scale(1 1.125)" >Richtung</text>
<text transform="translate(783 42) scale(1 1.125)" fill="#ffc000" >Sonnenschein</text>
<text transform="translate(878 42) scale(1 1.125)" fill="#0099ff" >ET</text>
<text transform="translate(973 42) scale(1 1.125)" fill="#ff0080" >UV</text>
<text transform="translate(1068 42) scale(1 1.125)" fill="#ff8000" >Solar</text>
<text transform="translate(1163 42) scale(1 1.125)" fill="#ff0000" >Taupunkt</text>
<text transform="translate(1258 42) scale(1 1.125)" >Windböen</text>
<text transform="translate(1353 42) scale(1 1.125)" fill="#ff0000" >12.4 Monat-Ø</text>
<g shape-rendering="crispEdges">
<rect x="493" y="628" width="2" height="9" fill="#ffff00"/>
<rect x="1302" y="624" width="2" height="3" fill="#ffff00"/>
<rect x="1302" y="629" width="2" height="8" fill="#ffff00"/>
<rect x="1300.5" y="651.5" width="5" height="5" fill="none" stroke="#ffff40" stroke-width="1"/>
</g>
<text transform="translate(10 658) scale(1 1.125)" >15:24</text>
<path d="M40 657.5V655l1.5-2.5 2-1.5h2l2 1.5 1.5 2.5v2.5z" fill="#ffff00"/>
<text transform="translate(460 658) scale(1 1.125)" >05:49</text>
<g stroke="#ffff80" stroke-width="1" fill="none"><path d="M494 647.5v12.5M487.5 653.75h13M489.5 649.5l9 8.5M498.5 649.5l-9 8.5"/></g>
<circle cx="494" cy="653.75" r="3.6" fill="#ffff00"/>
<text transform="translate(1269.5 658) scale(1 1.125)" >21:13</text>
<rect x="1" y="668" width="1598" height="72" fill="#c0ffff" shape-rendering="crispEdges"/>
<g shape-rendering="crispEdges" fill="#808080">
<rect x="87" y="668" width="1" height="72" fill="#e8ffff"/>
<rect x="88" y="668" width="1" height="72"/>
<rect x="204" y="668" width="1" height="72" fill="#e8ffff"/>
<rect x="205" y="668" width="1" height="72"/>
<rect x="321" y="668" width="1" height="72" fill="#e8ffff"/>
<rect x="322" y="668" width="1" height="72"/>
<rect x="440" y="668" width="1" height="72" fill="#e8ffff"/>
<rect x="441" y="668" width="1" height="72"/>
<rect x="558" y="668" width="1" height="72" fill="#e8ffff"/>
<rect x="559" y="668" width="1" height="72"/>
<rect x="676" y="668" width="1" height="72" fill="#e8ffff"/>
<rect x="677" y="668" width="1" height="72"/>
<rect x="795" y="668" width="1" height="72" fill="#e8ffff"/>
<rect x="796" y="668" width="1" height="72"/>
<rect x="912" y="668" width="1" height="72" fill="#e8ffff"/>
<rect x="913" y="668" width="1" height="72"/>
<rect x="1599" y="667" width="1" height="73"/>
</g>
<text transform="translate(8.5 686) scale(1 1.125)" font-weight="bold" letter-spacing="0.55" >Sensor</text>
<text transform="translate(8.5 702) scale(1 1.125)" font-weight="bold" letter-spacing="0.55" >MinWert</text>
<text transform="translate(8.5 718) scale(1 1.125)" font-weight="bold" letter-spacing="0.55" >MaxWert</text>
<text transform="translate(8.5 734) scale(1 1.125)" font-weight="bold" letter-spacing="0.55" >Durchschnitt</text>
<text transform="translate(95 686) scale(1 1.125)" font-weight="bold" letter-spacing="0.55" >Temp. A.</text>
<text transform="translate(198 686) scale(1 1.125)" text-anchor="end" font-weight="bold" letter-spacing="0.55" >°C</text>
<text transform="translate(100.5 702) scale(1 1.125)" >23:54</text>
<text transform="translate(198 702) scale(1 1.125)" text-anchor="end" >5.0</text>
<text transform="translate(100.5 718) scale(1 1.125)" >15:57</text>
<text transform="translate(198 718) scale(1 1.125)" text-anchor="end" >19.4</text>
<text transform="translate(100.5 734) scale(1 1.125)" >(+ 0.21 )</text>
<text transform="translate(197 734) scale(1 1.125)" text-anchor="end" >12.61</text>
<text transform="translate(212.5 686) scale(1 1.125)" font-weight="bold" letter-spacing="0.55" >Feuchte A.</text>
<text transform="translate(316 686) scale(1 1.125)" text-anchor="end" font-weight="bold" letter-spacing="0.55" >%</text>
<text transform="translate(218.5 702) scale(1 1.125)" >15:18</text>
<text transform="translate(316 702) scale(1 1.125)" text-anchor="end" >36</text>
<text transform="translate(218.5 718) scale(1 1.125)" >06:33</text>
<text transform="translate(316 718) scale(1 1.125)" text-anchor="end" >86</text>
<text transform="translate(316 734) scale(1 1.125)" text-anchor="end" >61</text>
<text transform="translate(330.5 686) scale(1 1.125)" font-weight="bold" letter-spacing="0.55" >Luftdruck</text>
<text transform="translate(434 686) scale(1 1.125)" text-anchor="end" font-weight="bold" letter-spacing="0.55" >hPa</text>
<text transform="translate(337 702) scale(1 1.125)" >05:09</text>
<text transform="translate(434 702) scale(1 1.125)" text-anchor="end" >1014.9</text>
<text transform="translate(337 718) scale(1 1.125)" >23:36</text>
<text transform="translate(434 718) scale(1 1.125)" text-anchor="end" >1019.2</text>
<text transform="translate(330.5 734) scale(1 1.125)" >^0.7hPa/h</text>
<text transform="translate(434 734) scale(1 1.125)" text-anchor="end" >1016.2</text>
<text transform="translate(448.5 686) scale(1 1.125)" font-weight="bold" letter-spacing="0.55" >Regen</text>
<text transform="translate(552 686) scale(1 1.125)" text-anchor="end" font-weight="bold" letter-spacing="0.55">l/m<tspan font-size="7" dy="-4">2</tspan></text>
<text transform="translate(454.5 718) scale(1 1.125)" >00:00</text>
<text transform="translate(552 718) scale(1 1.125)" text-anchor="end" >0.0</text>
<text transform="translate(448.5 734) scale(1 1.125)" >Gesamt:</text>
<text transform="translate(552 734) scale(1 1.125)" text-anchor="end" >0.0</text>
<text transform="translate(566.5 686) scale(1 1.125)" font-weight="bold" letter-spacing="0.55" >Wind</text>
<text transform="translate(670 686) scale(1 1.125)" text-anchor="end" font-weight="bold" letter-spacing="0.55" >km/h</text>
<text transform="translate(566.5 702) scale(1 1.125)" >Ø 10 min.</text>
<text transform="translate(670 702) scale(1 1.125)" text-anchor="end" >0.0</text>
<text transform="translate(573 718) scale(1 1.125)" >16:24</text>
<text transform="translate(670 718) scale(1 1.125)" text-anchor="end" >NO 24.7</text>
<text transform="translate(670 734) scale(1 1.125)" text-anchor="end" >9.4</text>
<text transform="translate(684.5 686) scale(1 1.125)" font-weight="bold" letter-spacing="0.55" >Windböen</text>
<text transform="translate(788 686) scale(1 1.125)" text-anchor="end" font-weight="bold" letter-spacing="0.55" >km/h</text>
<text transform="translate(684.5 702) scale(1 1.125)" >Ø 10 min.</text>
<text transform="translate(788 702) scale(1 1.125)" text-anchor="end" >0.0</text>
<text transform="translate(691 718) scale(1 1.125)" >16:24</text>
<text transform="translate(788 718) scale(1 1.125)" text-anchor="end" >N-NO 37.0</text>
<text transform="translate(788 734) scale(1 1.125)" text-anchor="end" >15.3</text>
<text transform="translate(802.5 686) scale(1 1.125)" font-weight="bold" letter-spacing="0.55" >Solar</text>
<text transform="translate(905.5 686) scale(1 1.125)" text-anchor="end" font-weight="bold" letter-spacing="0.55">W/m<tspan font-size="7" dy="-4">2</tspan></text>
<text transform="translate(802.5 702) scale(1 1.125)" >Elevation</text>
<text transform="translate(906 702) scale(1 1.125)" text-anchor="end" >-18.033</text>
<text transform="translate(808.5 718) scale(1 1.125)" >13:54</text>
<text transform="translate(906 718) scale(1 1.125)" text-anchor="end" >1086</text>
<text transform="translate(802.5 734) scale(1 1.125)" >11:30 h</text>
<text transform="translate(906 734) scale(1 1.125)" text-anchor="end" >274</text>
<text transform="translate(920.5 686) scale(1 1.125)" font-weight="bold" letter-spacing="0.55" >UV</text>
<text transform="translate(1020.5 686) scale(1 1.125)" text-anchor="end" font-weight="bold" letter-spacing="0.55" >UV-I</text>
<text transform="translate(926.5 702) scale(1 1.125)" >00:00</text>
<text transform="translate(1022 702) scale(1 1.125)" text-anchor="end" >0.0</text>
<text transform="translate(926.5 718) scale(1 1.125)" >13:39</text>
<text transform="translate(1021 718) scale(1 1.125)" text-anchor="end" >6.1</text>
<text transform="translate(1021 734) scale(1 1.125)" text-anchor="end" >3.1</text>
</svg></body></html>
